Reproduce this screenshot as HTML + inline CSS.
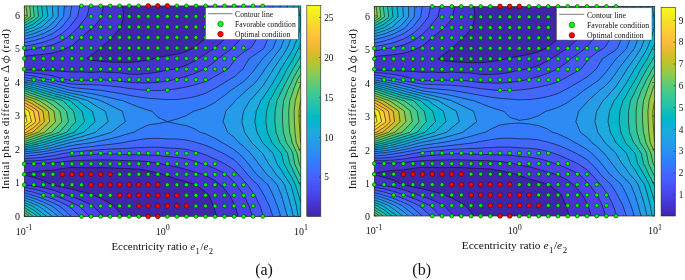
<!DOCTYPE html>
<html><head><meta charset="utf-8"><title>fig</title>
<style>html,body{margin:0;padding:0;background:#fff}svg{display:block;will-change:transform}</style></head>
<body>
<svg width="685" height="280" viewBox="0 0 685 280">
<rect width="685" height="280" fill="#fff"/>
<clipPath id="clipa"><rect x="24.3" y="5.9" width="276.5" height="210.5"/></clipPath>
<g clip-path="url(#clipa)">
<rect x="24.3" y="5.9" width="276.5" height="210.5" fill="#3e26a8"/>
<path d="M24.3,216.4 33.8,216.4 43.4,216.4 52.9,216.4 62.4,216.4 72,216.4 81.5,216.4 91,216.4 100.6,216.4 110.1,216.4 119.6,216.4 122.8,216.4 119.6,212.4 113.8,205.9 110.1,203.4 100.6,198.2 93.9,195.3 91,194.1 81.5,191.6 72,189.2 62.4,187.2 52.9,185 51.8,184.8 43.4,180.6 33.8,177.5 24.3,175 24.3,184.8 24.3,195.3 24.3,205.9 24.3,216.4ZM213.2,205.9 215,211.2 216.5,216.4 224.5,216.4 234.1,216.4 243.6,216.4 253.1,216.4 262.7,216.4 272.2,216.4 281.7,216.4 291.3,216.4 300.8,216.4 300.8,205.9 300.8,195.3 300.8,184.8 300.8,174.3 300.8,163.8 300.8,153.2 300.8,142.7 300.8,132.2 300.8,121.7 300.8,111.2 300.8,100.6 300.8,90.1 300.8,79.6 300.8,69.1 300.8,58.5 300.8,48 300.8,37.5 300.8,26.9 300.8,16.4 300.8,5.9 291.3,5.9 281.7,5.9 272.2,5.9 262.7,5.9 253.1,5.9 243.6,5.9 234.1,5.9 224.5,5.9 216.5,5.9 215.8,16.4 215,19.3 212.3,26.9 207.2,37.5 205.5,38.8 195.9,46.1 193.8,48 186.4,51.5 176.9,54.2 167.3,55.7 157.8,57.5 154.5,58.5 148.2,60 138.7,61.5 129.2,62.5 119.6,62.3 110.1,62.1 100.6,61.2 91,60.3 86.9,58.5 91,55.6 100.6,48 100.6,48 110.1,39.6 112.1,37.5 119.6,28.8 121.1,26.9 123.4,16.4 122.8,5.9 119.6,5.9 110.1,5.9 100.6,5.9 91,5.9 81.5,5.9 72,5.9 62.4,5.9 52.9,5.9 43.4,5.9 33.8,5.9 24.3,5.9 24.3,16.4 24.3,26.9 24.3,37.5 24.3,48 24.3,58.5 24.3,69.1 24.3,79.6 24.3,90.1 24.3,100.6 24.3,111.2 24.3,121.7 24.3,132.2 24.3,142.7 24.3,153.2 24.3,163.8 24.3,173.5 33.8,171.7 43.4,170.5 52.9,170.1 62.4,168.6 72,167.4 81.5,167.7 91,167.8 100.6,167.7 110.1,167.8 119.6,168.3 129.2,168.7 138.7,169.2 148.2,170.7 157.8,173 163.2,174.3 167.3,175.9 176.9,179.2 186.4,181.7 195.9,184.8 196,184.8 205.5,192.2 209,195.4 213.2,205.9Z" fill="#4433cc" fill-rule="evenodd"/>
<path d="M24.3,216.4 33.8,216.4 43.4,216.4 52.9,216.4 62.4,216.4 72,216.4 81.5,216.4 91,216.4 100.6,216.4 103.5,216.4 100.6,213.5 92.7,205.9 91,204.9 81.5,200.3 72,196.8 67.6,195.4 62.4,193.4 52.9,190 43.4,187.6 33.8,185.9 24.3,185 24.3,195.3 24.3,205.9 24.3,216.4ZM238.1,216.4 243.6,216.4 253.1,216.4 262.7,216.4 272.2,216.4 281.7,216.4 291.3,216.4 300.8,216.4 300.8,205.9 300.8,195.3 300.8,184.8 300.8,174.3 300.8,163.8 300.8,153.2 300.8,142.7 300.8,132.2 300.8,121.7 300.8,111.2 300.8,100.6 300.8,90.1 300.8,79.6 300.8,69.1 300.8,58.5 300.8,48 300.8,37.5 300.8,26.9 300.8,16.4 300.8,5.9 291.3,5.9 281.7,5.9 272.2,5.9 262.7,5.9 253.1,5.9 243.6,5.9 238.1,5.9 237.4,16.4 234.1,24.9 233.2,26.9 226.2,37.5 224.5,39.3 215,47.9 214.8,48 205.5,54.1 198.6,58.5 195.9,60.4 186.4,65.2 176.9,68.5 173.7,69.1 167.3,70 157.8,72.1 148.2,73.6 138.7,74.3 129.2,74.2 119.6,72.8 110.1,72.4 100.6,71.9 91,72.5 81.5,71.9 72,72.1 62.4,71.3 52.9,70.7 43.4,70.4 33.8,70 24.3,69.8 24.3,79.6 24.3,90.1 24.3,100.6 24.3,111.2 24.3,121.7 24.3,132.2 24.3,142.7 24.3,153.2 24.3,163.4 33.8,163.5 43.4,163.2 52.9,162.7 62.4,161.8 72,160.8 81.5,160.4 91,160.2 100.6,159.9 110.1,160 119.6,160.4 129.2,160.7 138.7,160.8 148.2,161.6 157.8,163.1 161.4,163.8 167.3,165.1 176.9,167 186.4,169.6 195.9,172.5 202.5,174.3 205.5,175.3 215,180.5 220.5,184.8 224.5,189.1 229.6,195.3 234.1,203.6 235.2,205.9 238.1,216.4ZM24.3,48 24.3,56.2 33.8,55.3 43.4,54.4 52.9,53 62.4,50.1 66.8,48 72,45.7 81.1,37.5 81.5,37.1 91,29.2 93.9,26.9 100.6,18.6 101.4,16.4 103.5,5.9 100.6,5.9 91,5.9 81.5,5.9 72,5.9 62.4,5.9 52.9,5.9 43.4,5.9 33.8,5.9 24.3,5.9 24.3,16.4 24.3,26.9 24.3,37.5 24.3,48Z" fill="#4743e7" fill-rule="evenodd"/>
<path d="M24.3,216.4 33.8,216.4 43.4,216.4 52.9,216.4 62.4,216.4 72,216.4 81.5,216.4 89.5,216.4 81.5,208.3 78.8,205.9 72,202.5 62.4,198.5 53.8,195.3 52.9,195 43.4,191.6 33.8,189.1 24.3,187.6 24.3,195.3 24.3,205.9 24.3,216.4ZM252.5,216.4 253.1,216.4 262.7,216.4 272.2,216.4 281.7,216.4 291.3,216.4 300.8,216.4 300.8,205.9 300.8,195.3 300.8,184.8 300.8,174.3 300.8,163.8 300.8,153.2 300.8,142.7 300.8,132.2 300.8,121.7 300.8,111.2 300.8,100.6 300.8,90.1 300.8,79.6 300.8,69.1 300.8,58.5 300.8,48 300.8,37.5 300.8,26.9 300.8,16.4 300.8,5.9 291.3,5.9 281.7,5.9 272.2,5.9 262.7,5.9 253.1,5.9 252.5,5.9 252.2,16.4 248.8,26.9 243.6,34.7 241.6,37.5 234.1,46.3 232.5,48 224.5,54.1 218.2,58.5 215,61.5 205.5,68.6 204.7,69.1 195.9,73 186.4,76.3 176.9,78.9 174.2,79.6 167.3,81 157.8,82.3 148.2,82.9 138.7,82.9 129.2,82.4 119.6,81.1 110.1,80.2 100.6,79.9 91,80.1 81.5,80.4 72,80.6 64.5,79.6 62.4,78.9 52.9,75.9 43.4,74.3 33.8,73 24.3,72.3 24.3,79.6 24.3,90.1 24.3,100.6 24.3,111.2 24.3,121.7 24.3,132.2 24.3,142.7 24.3,153.2 24.3,161 33.8,160.8 43.4,160.1 52.9,159.2 62.4,157.7 72,156.3 81.5,155.4 91,154.7 100.6,153.9 110.1,153.8 119.6,154.3 129.2,154.7 138.7,154.7 148.2,154.9 157.8,155.4 167.3,156.6 176.9,157.3 186.4,158.8 195.9,161.4 202.8,163.8 205.5,164.7 215,168.7 224.5,173.2 226.1,174.3 234.1,182.1 236.4,184.8 243.6,194.8 244,195.4 249.1,205.9 252.5,216.4ZM24.3,48 24.3,50.7 33.8,48.8 37.5,48 43.4,47 52.9,44.8 62.4,40.6 67,37.5 72,33.5 78.5,26.9 81.5,23 86.9,16.4 89.5,5.9 81.5,5.9 72,5.9 62.4,5.9 52.9,5.9 43.4,5.9 33.8,5.9 24.3,5.9 24.3,16.4 24.3,26.9 24.3,37.5 24.3,48Z" fill="#4855f6" fill-rule="evenodd"/>
<path d="M24.3,216.4 33.8,216.4 43.4,216.4 52.9,216.4 62.4,216.4 72,216.4 79.8,216.4 72,209 68.2,205.9 62.4,203.1 52.9,198.9 43.4,195.5 42.9,195.3 33.8,192.4 24.3,190.2 24.3,195.3 24.3,205.9 24.3,216.4ZM260,205.9 262.7,214 263.4,216.4 272.2,216.4 281.7,216.4 291.3,216.4 300.8,216.4 300.8,205.9 300.8,195.3 300.8,184.8 300.8,174.3 300.8,163.8 300.8,153.2 300.8,142.7 300.8,132.2 300.8,121.7 300.8,111.2 300.8,100.6 300.8,90.1 300.8,79.6 300.8,69.1 300.8,58.5 300.8,48 300.8,37.5 300.8,26.9 300.8,16.4 300.8,5.9 291.3,5.9 281.7,5.9 272.2,5.9 263.4,5.9 263.6,16.4 262.7,21.5 261.4,26.9 257.2,37.5 253.1,44.9 250.6,48 243.6,52.1 235.5,58.5 234.1,61.1 227.9,69.1 224.5,71 215,76.4 209.6,79.6 205.5,81.7 195.9,84.6 186.4,87 176.9,88.7 167.3,90 165.1,90.1 157.8,90.5 148.2,90.5 144.3,90.1 138.7,89.6 129.2,88.5 119.6,87.1 110.1,86 100.6,85.1 91,84.7 81.5,84.5 72,84.1 62.4,82.3 52.9,80.4 48.5,79.6 43.4,78.2 33.8,76.1 24.3,74.8 24.3,79.6 24.3,90.1 24.3,100.6 24.3,111.2 24.3,121.7 24.3,132.2 24.3,142.7 24.3,153.2 24.3,158.6 33.8,158.1 43.4,157.1 52.9,155.7 62.4,153.7 65.1,153.2 72,152.2 81.5,151.2 91,150.4 100.6,149.6 110.1,149 119.6,148.7 129.2,148.2 138.7,147.6 148.2,147.2 157.8,147.2 167.3,147.9 176.9,148.3 186.4,149.4 195.9,151.7 200.6,153.2 205.5,154.9 215,159.1 224.5,163.6 224.9,163.8 234.1,169.8 238.2,174.3 243.6,180.6 247.5,184.8 253.1,192.8 254.8,195.3 260,205.9ZM24.3,37.5 24.3,46.2 33.8,44.6 43.4,42.3 52.9,38.7 55.3,37.5 62.4,33.2 69.6,26.9 72,23.7 77.7,16.4 79.8,5.9 72,5.9 62.4,5.9 52.9,5.9 43.4,5.9 33.8,5.9 24.3,5.9 24.3,16.4 24.3,26.9 24.3,37.5Z" fill="#4367fd" fill-rule="evenodd"/>
<path d="M24.3,216.4 33.8,216.4 43.4,216.4 52.9,216.4 62.4,216.4 71.6,216.4 62.4,208.4 59.3,205.9 52.9,202.8 43.4,198.8 33.8,195.6 33.1,195.3 24.3,192.8 24.3,195.3 24.3,205.9 24.3,216.4ZM269.3,205.9 272.2,214.3 272.8,216.4 281.7,216.4 291.3,216.4 300.8,216.4 300.8,205.9 300.8,195.3 300.8,184.8 300.8,174.3 300.8,163.8 300.8,153.2 300.8,142.7 300.8,132.2 300.8,121.7 300.8,111.2 300.8,100.6 300.8,90.1 300.8,79.6 300.8,69.1 300.8,58.5 300.8,48 300.8,37.5 300.8,26.9 300.8,16.4 300.8,5.9 291.3,5.9 281.7,5.9 272.8,5.9 272.9,16.4 272.2,21.8 271.4,26.9 268.4,37.5 264,48 262.7,49.4 253.1,55.9 249.2,58.5 243.6,67.9 243,69.1 234.1,76.8 229.4,79.6 224.5,82.6 215,88.3 211.5,90.1 205.5,93.4 195.9,96.4 186.4,98.3 176.9,99.5 167.3,99.7 157.8,98.9 148.2,98.3 138.7,97 129.2,95.3 119.6,93.4 110.1,91.8 100.6,90.3 98.8,90.1 91,89.3 81.5,88.5 72,87.5 62.4,85.2 52.9,83 43.4,81.1 35.2,79.6 33.8,79.2 24.3,77.3 24.3,79.6 24.3,90.1 24.3,100.6 24.3,111.2 24.3,121.7 24.3,132.2 24.3,142.7 24.3,153.2 24.3,156.2 33.8,155.4 43.4,154 47.7,153.2 52.9,152.4 62.4,150.6 72,148.9 81.5,147.6 91,146.6 100.6,145.4 110.1,144.4 119.6,143.2 122.8,142.7 129.2,141.4 138.7,139.7 148.2,138.5 157.8,138.3 167.3,138.9 176.9,139 186.4,140 195.9,142.3 197.1,142.7 205.5,145.3 215,149.4 222.9,153.2 224.5,154 234.1,159.7 238.2,163.8 243.6,169.6 247.3,174.3 253.1,180.6 257.8,184.8 262.7,192.8 264.1,195.3 269.3,205.9ZM24.3,37.5 24.3,42.7 33.8,40.6 43.4,37.6 43.7,37.5 52.9,33.5 62,26.9 62.4,26.4 70.1,16.4 71.6,5.9 62.4,5.9 52.9,5.9 43.4,5.9 33.8,5.9 24.3,5.9 24.3,16.4 24.3,26.9 24.3,37.5Z" fill="#347afd" fill-rule="evenodd"/>
<path d="M24.3,216.4 33.8,216.4 43.4,216.4 52.9,216.4 62.4,216.4 64.4,216.4 62.4,214.7 52.9,206.8 51.5,205.9 43.4,202.1 33.8,198.3 24.3,195.4 24.3,205.9 24.3,216.4ZM280.7,216.4 281.7,216.4 291.3,216.4 300.8,216.4 300.8,205.9 300.8,195.3 300.8,184.8 300.8,174.3 300.8,163.8 300.8,153.2 300.8,142.7 300.8,132.2 300.8,121.7 300.8,111.2 300.8,100.6 300.8,90.1 300.8,79.6 300.8,69.1 300.8,58.5 300.8,48 300.8,37.5 300.8,26.9 300.8,16.4 300.8,5.9 291.3,5.9 281.7,5.9 280.7,5.9 280.8,16.4 279.6,26.9 277.1,37.5 273.1,48 272.2,49.2 262.9,58.5 262.7,58.8 254.9,69.1 253.1,71.5 245.9,79.6 243.6,81.5 234.1,88.2 231.1,90.1 224.5,95.5 217.3,100.6 215,102.5 205.5,107.5 195.9,110.6 193.5,111.2 186.4,115.7 176.9,119 167.3,121.7 157.8,117.3 152,111.2 148.2,110.2 138.7,107.1 129.2,103.3 122.5,100.6 119.6,100 110.1,97.7 100.6,95.5 91,93.6 81.5,92.1 72,90.7 69.3,90.1 62.4,88.2 52.9,85.6 43.4,83.4 33.8,81.4 24.3,79.8 24.3,90.1 24.3,100.6 24.3,111.2 24.3,121.7 24.3,132.2 24.3,142.7 24.3,153.2 24.3,153.8 29.2,153.2 33.8,152.8 43.4,151.6 52.9,149.8 62.4,147.6 72,145.5 81.5,144 91,142.7 91,142.7 100.6,140.9 110.1,138.8 119.6,136.3 129.2,133.4 134.1,132.2 138.7,129.4 148.2,124.9 157.8,123.6 167.3,121.7 176.9,123.9 186.4,125.6 195.9,129.4 199.8,132.2 205.5,133.8 215,138.3 222.2,142.7 224.5,143.8 234.1,149.6 238.5,153.2 243.6,158.1 248.3,163.8 253.1,170.1 256.5,174.3 262.7,179.9 268,184.8 272.2,193.1 273.1,195.3 277.4,205.9 280.7,216.4ZM24.3,37.5 24.3,39.3 31.1,37.5 33.8,36.8 43.4,33.7 52.9,28.5 55.1,26.9 62.4,17.9 63.6,16.4 64.4,5.9 62.4,5.9 52.9,5.9 43.4,5.9 33.8,5.9 24.3,5.9 24.3,16.4 24.3,26.9 24.3,37.5Z" fill="#2d8cf3" fill-rule="evenodd"/>
<path d="M24.3,216.4 33.8,216.4 43.4,216.4 52.9,216.4 58.2,216.4 52.9,211.9 44.5,205.9 43.4,205.3 33.8,201.1 24.3,197.8 24.3,205.9 24.3,216.4ZM287.4,216.4 291.3,216.4 300.8,216.4 300.8,205.9 300.8,195.3 300.8,184.8 300.8,174.3 300.8,163.8 300.8,153.2 300.8,142.7 300.8,132.2 300.8,121.7 300.8,111.2 300.8,100.6 300.8,90.1 300.8,79.6 300.8,69.1 300.8,58.5 300.8,48 300.8,37.5 300.8,26.9 300.8,16.4 300.8,5.9 291.3,5.9 287.4,5.9 287.7,16.4 286.9,26.9 284.6,37.5 281.7,45.7 280.8,48 272.8,58.5 272.2,59.4 264.9,69.1 262.7,72.7 257.7,79.6 253.1,84.9 246.6,90.1 243.6,93 235.2,100.6 234.1,102.2 225.8,111.2 224.5,116.6 222.9,121.7 224.5,124.6 227.6,132.2 234.1,137.3 239,142.7 243.6,146.4 250.6,153.2 253.1,156.3 258.6,163.8 262.7,169 266.7,174.3 272.2,179.3 277.1,184.8 281.4,195.3 281.7,196.3 284.5,205.9 287.4,216.4ZM24.3,142.7 24.3,151.9 33.8,150.8 43.4,149.3 52.9,147.3 62.4,144.7 70.1,142.7 72,142.2 81.5,140.4 91,138.3 100.6,135.6 110.1,132.7 111.7,132.2 119.6,126 125.3,121.7 122.2,111.2 119.6,109.9 110.1,105.2 100.6,100.7 100.4,100.6 91,97.8 81.5,95.4 72,93.4 62.4,91 59.2,90.1 52.9,88.2 43.4,85.7 33.8,83.5 24.3,81.6 24.3,90.1 24.3,100.6 24.3,111.2 24.3,121.7 24.3,132.2 24.3,142.7ZM24.3,26.9 24.3,36.2 33.8,33.6 43.4,29.7 48.2,26.9 52.9,22.7 58.2,16.4 58.2,5.9 52.9,5.9 43.4,5.9 33.8,5.9 24.3,5.9 24.3,16.4 24.3,26.9Z" fill="#259ce7" fill-rule="evenodd"/>
<path d="M24.3,216.4 33.8,216.4 43.4,216.4 52.3,216.4 43.4,209.5 38.2,205.9 33.8,203.9 24.3,200.2 24.3,205.9 24.3,216.4ZM290.9,205.9 291.3,207.2 293.2,216.4 300.8,216.4 300.8,205.9 300.8,195.3 300.8,184.8 300.8,174.3 300.8,163.8 300.8,153.2 300.8,142.7 300.8,132.2 300.8,121.7 300.8,111.2 300.8,100.6 300.8,90.1 300.8,79.6 300.8,69.1 300.8,58.5 300.8,48 300.8,37.5 300.8,26.9 300.8,16.4 300.8,5.9 293.2,5.9 294.1,16.4 293.7,26.9 291.4,37.5 291.3,37.8 287.4,48 281.7,57.1 280.6,58.5 273.4,69.1 272.2,71.3 266.9,79.6 262.7,86.1 259.2,90.1 253.1,97.3 249.8,100.6 243.6,111.1 243.6,111.2 241.8,121.7 243.6,127.9 244.6,132.2 251.7,142.7 253.1,144.1 262.3,153.2 262.7,153.7 268.6,163.8 272.2,168.5 276,174.3 281.7,180.7 284.5,184.8 287.9,195.3 290.9,205.9ZM24.3,142.7 24.3,150.2 33.8,148.9 43.4,147 52.9,144.7 59.4,142.7 62.4,141.8 72,139.2 81.5,136.7 91,133.8 95.7,132.2 100.6,127.8 108.2,121.7 105.3,111.2 100.6,108.6 91,102.9 87.7,100.6 81.5,98.7 72,96 62.4,93.3 52.9,90.8 50.6,90.1 43.4,88 33.8,85.5 24.3,83.4 24.3,90.1 24.3,100.6 24.3,111.2 24.3,121.7 24.3,132.2 24.3,142.7ZM24.3,26.9 24.3,33.5 33.8,30.4 41.4,26.9 43.4,25.5 52.9,16.6 53,16.4 52.9,14.6 52.3,5.9 43.4,5.9 33.8,5.9 24.3,5.9 24.3,16.4 24.3,26.9Z" fill="#1caadf" fill-rule="evenodd"/>
<path d="M24.3,216.4 33.8,216.4 43.4,216.4 46.7,216.4 43.4,213.8 33.8,206.9 32.1,205.9 24.3,202.6 24.3,205.9 24.3,216.4ZM298.1,216.4 300.8,216.4 300.8,205.9 300.8,195.3 300.8,184.8 300.8,174.3 300.8,163.8 300.8,153.2 300.8,142.7 300.8,132.2 300.8,121.7 300.8,111.2 300.8,100.6 300.8,90.1 300.8,79.6 300.8,69.1 300.8,58.5 300.8,48 300.8,37.5 300.8,26.9 300.8,16.4 300.8,5.9 298.1,5.9 300.1,16.4 300.2,26.9 297.6,37.5 293.4,48 291.3,52.1 287.3,58.5 281.7,67.5 280.7,69.1 274.7,79.6 272.2,83.9 268.1,90.1 262.7,98.4 260.8,100.6 256.3,111.2 254.8,121.7 257,132.2 262.6,142.7 262.7,142.8 272.2,152.6 272.8,153.2 277,163.8 281.7,170.7 283.7,174.3 290.7,184.8 291.3,186.6 293.7,195.4 296.4,205.9 298.1,216.4ZM24.3,142.7 24.3,148.5 33.8,146.9 43.4,144.8 50.8,142.7 52.9,142.1 62.4,139.1 72,136.1 81.5,133 84,132.2 91,125.4 95.1,121.7 92.4,111.2 91,110.3 81.5,103.6 78.1,100.6 72,98.7 62.4,95.7 52.9,93.2 43.4,90.4 42.6,90.1 33.8,87.6 24.3,85.2 24.3,90.1 24.3,100.6 24.3,111.2 24.3,121.7 24.3,132.2 24.3,142.7ZM24.3,26.9 24.3,30.8 33.8,27.3 34.5,26.9 43.4,20.6 47.8,16.4 46.7,5.9 43.4,5.9 33.8,5.9 24.3,5.9 24.3,16.4 24.3,26.9Z" fill="#04b6ce" fill-rule="evenodd"/>
<path d="M24.3,216.4 33.8,216.4 41.6,216.4 33.8,210.3 26.3,205.9 24.3,205 24.3,205.9 24.3,216.4ZM298.7,195.3 300.8,202.6 300.8,195.3 300.8,184.8 300.8,174.3 300.8,163.8 300.8,153.2 300.8,142.7 300.8,132.2 300.8,121.7 300.8,111.2 300.8,100.6 300.8,90.1 300.8,79.6 300.8,69.1 300.8,58.5 300.8,48 300.8,43.3 298.7,48 293.5,58.5 291.3,62.2 287,69.1 281.7,79.5 281.7,79.6 275.4,90.1 272.2,96.4 269.5,100.6 266.5,111.2 265.8,121.7 267.4,132.2 272,142.7 272.2,142.9 281.2,153.2 281.7,154.7 284,163.8 289.8,174.3 291.3,176.5 295.4,184.8 298.7,195.3ZM24.3,142.7 24.3,146.8 33.8,144.9 42.5,142.7 43.4,142.5 52.9,139.5 62.4,136.5 72,133 74.5,132.2 81.5,124.7 84.6,121.7 82,111.2 81.5,110.8 72,102.5 70.1,100.6 62.4,98.1 52.9,95.6 43.4,92.7 35.5,90.1 33.8,89.6 24.3,87 24.3,90.1 24.3,100.6 24.3,111.2 24.3,121.7 24.3,132.2 24.3,142.7ZM24.3,26.9 24.3,28.1 27.3,26.9 33.8,23.8 42.8,16.4 41.6,5.9 33.8,5.9 24.3,5.9 24.3,16.4 24.3,26.9Z" fill="#12beb9" fill-rule="evenodd"/>
<path d="M24.3,216.4 33.8,216.4 37.3,216.4 33.8,213.7 24.3,207.5 24.3,216.4ZM300.1,184.8 300.8,187.1 300.8,184.8 300.8,174.3 300.8,163.8 300.8,153.2 300.8,142.7 300.8,132.2 300.8,121.7 300.8,111.2 300.8,100.6 300.8,90.1 300.8,79.6 300.8,69.1 300.8,58.5 300.8,55.4 299.3,58.5 292.9,69.1 291.3,72.1 287.3,79.6 282,90.1 281.7,90.8 277,100.6 275.1,111.2 274.9,121.7 276,132.2 280,142.7 281.7,144.7 287.4,153.2 289.9,163.8 291.3,166.3 294.8,174.3 300.1,184.8ZM24.3,142.7 24.3,145 33.8,142.9 34.6,142.7 43.4,140 52.9,136.9 62.4,133.8 66.8,132.2 72,125.7 75.8,121.7 73.5,111.2 72,109.8 62.9,100.6 62.4,100.5 52.9,98 43.4,95.1 33.8,91.9 28.9,90.1 24.3,88.8 24.3,90.1 24.3,100.6 24.3,111.2 24.3,121.7 24.3,132.2 24.3,142.7ZM24.3,16.4 24.3,25.6 33.8,20.4 38.6,16.4 37.3,5.9 33.8,5.9 24.3,5.9 24.3,16.4Z" fill="#30c5a2" fill-rule="evenodd"/>
<path d="M24.3,216.4 33.1,216.4 24.3,210 24.3,216.4ZM299.5,174.3 300.8,176.9 300.8,174.3 300.8,163.8 300.8,153.2 300.8,142.7 300.8,132.2 300.8,121.7 300.8,111.2 300.8,100.6 300.8,90.1 300.8,79.6 300.8,69.1 300.8,65.2 298.4,69.1 292.6,79.6 291.3,82.9 287.7,90.1 283.7,100.6 282.5,111.2 282.5,121.7 283.3,132.2 286.4,142.7 291.3,149.9 292.8,153.2 294.7,163.8 299.5,174.3ZM24.3,142.7 24.3,143.3 26.9,142.7 33.8,140.7 43.4,137.5 52.9,134.4 59.4,132.2 62.4,129 68.4,121.7 66.5,111.2 62.4,107.1 53.8,100.6 52.9,100.4 43.4,97.5 33.8,94.2 24.3,90.7 24.3,100.6 24.3,111.2 24.3,121.7 24.3,132.2 24.3,142.7ZM24.3,16.4 24.3,23.2 33.8,16.9 34.4,16.4 33.8,12.3 33.1,5.9 24.3,5.9 24.3,16.4Z" fill="#48cb86" fill-rule="evenodd"/>
<path d="M24.3,216.4 29.6,216.4 24.3,212.5 24.3,216.4ZM299.3,163.8 300.8,167.1 300.8,163.8 300.8,153.2 300.8,142.7 300.8,132.2 300.8,121.7 300.8,111.2 300.8,100.6 300.8,90.1 300.8,79.6 300.8,73.8 297.4,79.6 293.3,90.1 291.3,96.5 289.8,100.6 288.7,111.2 288.9,121.7 289.6,132.2 291.3,138.3 292.1,142.7 297,153.2 299.3,163.8ZM24.3,132.2 24.3,141.4 33.8,138.4 43.4,135.1 51.8,132.2 52.9,131.1 61.8,121.7 60,111.2 52.9,105.2 45.9,100.6 43.4,99.9 33.8,96.5 24.3,93 24.3,100.6 24.3,111.2 24.3,121.7 24.3,132.2ZM24.3,16.4 24.3,20.8 30.8,16.4 29.6,5.9 24.3,5.9 24.3,16.4Z" fill="#71cd64" fill-rule="evenodd"/>
<path d="M24.3,216.4 26.2,216.4 24.3,215.1 24.3,216.4ZM296.3,142.7 300.8,152.5 300.8,142.7 300.8,132.2 300.8,121.7 300.8,111.2 300.8,100.6 300.8,90.1 300.8,83.9 298.5,90.1 295.3,100.6 294.1,111.2 294.4,121.7 295,132.2 296.3,142.7ZM24.3,132.2 24.3,139.3 33.8,136.2 43.4,132.6 44.6,132.2 52.9,124.4 55.5,121.7 53.9,111.2 52.9,110.3 43.4,103.4 38.9,100.6 33.8,98.8 24.3,95.3 24.3,100.6 24.3,111.2 24.3,121.7 24.3,132.2ZM24.3,16.4 24.3,18.5 27.3,16.4 26.2,5.9 24.3,5.9 24.3,16.4Z" fill="#9fc942" fill-rule="evenodd"/>
<path d="M300.6,142.7 300.8,143.2 300.8,142.7 300.8,132.2 300.8,121.7 300.8,111.2 300.8,100.6 300.8,99.9 300.6,100.6 299,111.2 299.2,121.7 299.9,132.2 300.6,142.7ZM24.3,132.2 24.3,137.2 33.8,133.9 38.4,132.2 43.4,127.8 49.7,121.7 48.4,111.2 43.4,107.4 33.8,101.4 32.5,100.6 24.3,97.6 24.3,100.6 24.3,111.2 24.3,121.7 24.3,132.2Z" fill="#c8c129" fill-rule="evenodd"/>
<path d="M24.3,132.2 24.3,135.1 32.4,132.2 33.8,131.3 43.4,122.6 44.3,121.7 43.4,114.5 43,111.2 33.8,104.7 26.4,100.6 24.3,99.8 24.3,100.6 24.3,111.2 24.3,121.7 24.3,132.2Z" fill="#eaba30" fill-rule="evenodd"/>
<path d="M24.3,132.2 24.3,133.1 26.7,132.2 33.8,127.4 40,121.7 38.2,111.2 33.8,108 24.3,102.5 24.3,111.2 24.3,121.7 24.3,132.2Z" fill="#fec13a" fill-rule="evenodd"/>
<path d="M24.3,121.7 24.3,130.3 33.8,123.5 35.8,121.7 33.8,112.5 33.5,111.1 24.3,105.3 24.3,111.2 24.3,121.7Z" fill="#fad42e" fill-rule="evenodd"/>
<path d="M24.3,121.7 24.3,127 31.5,121.7 29,111.2 24.3,108.2 24.3,111.2 24.3,121.7Z" fill="#f5e825" fill-rule="evenodd"/>
<path d="M24.3,121.7 24.3,123.7 27,121.7 24.5,111.2 24.3,111 24.3,111.2 24.3,121.7Z" fill="#f9fb15" fill-rule="evenodd"/>
<path d="M122.8,216.4 119.6,212.4 113.8,205.9 110.1,203.4 100.6,198.2 93.9,195.3 91,194.1 81.5,191.6 72,189.2 62.4,187.2 52.9,185 51.8,184.8 43.4,180.6 33.8,177.5 24.3,175M24.3,173.5 33.8,171.7 43.4,170.5 52.9,170.1 62.4,168.6 72,167.4 81.5,167.7 91,167.8 100.6,167.7 110.1,167.8 119.6,168.3 129.2,168.7 138.7,169.2 148.2,170.7 157.8,173 163.2,174.3 167.3,175.9 176.9,179.2 186.4,181.7 195.9,184.8 196,184.8 205.5,192.2 209,195.4 213.2,205.9 215,211.2 216.5,216.4M216.5,5.9 215.8,16.4 215,19.3 212.3,26.9 207.2,37.5 205.5,38.8 195.9,46.1 193.8,48 186.4,51.5 176.9,54.2 167.3,55.7 157.8,57.5 154.5,58.5 148.2,60 138.7,61.5 129.2,62.5 119.6,62.3 110.1,62.1 100.6,61.2 91,60.3 86.9,58.5 91,55.6 100.6,48 100.6,48 110.1,39.6 112.1,37.5 119.6,28.8 121.1,26.9 123.4,16.4 122.8,5.9M103.5,216.4 100.6,213.5 92.7,205.9 91,204.9 81.5,200.3 72,196.8 67.6,195.4 62.4,193.4 52.9,190 43.4,187.6 33.8,185.9 24.3,185M24.3,163.4 33.8,163.5 43.4,163.2 52.9,162.7 62.4,161.8 72,160.8 81.5,160.4 91,160.2 100.6,159.9 110.1,160 119.6,160.4 129.2,160.7 138.7,160.8 148.2,161.6 157.8,163.1 161.4,163.8 167.3,165.1 176.9,167 186.4,169.6 195.9,172.5 202.5,174.3 205.5,175.3 215,180.5 220.5,184.8 224.5,189.1 229.6,195.3 234.1,203.6 235.2,205.9 238.1,216.4M24.3,56.2 33.8,55.3 43.4,54.4 52.9,53 62.4,50.1 66.8,48 72,45.7 81.1,37.5 81.5,37.1 91,29.2 93.9,26.9 100.6,18.6 101.4,16.4 103.5,5.9M238.1,5.9 237.4,16.4 234.1,24.9 233.2,26.9 226.2,37.5 224.5,39.3 215,47.9 214.8,48 205.5,54.1 198.6,58.5 195.9,60.4 186.4,65.2 176.9,68.5 173.7,69.1 167.3,70 157.8,72.1 148.2,73.6 138.7,74.3 129.2,74.2 119.6,72.8 110.1,72.4 100.6,71.9 91,72.5 81.5,71.9 72,72.1 62.4,71.3 52.9,70.7 43.4,70.4 33.8,70 24.3,69.8M89.5,216.4 81.5,208.3 78.8,205.9 72,202.5 62.4,198.5 53.8,195.3 52.9,195 43.4,191.6 33.8,189.1 24.3,187.6M24.3,161 33.8,160.8 43.4,160.1 52.9,159.2 62.4,157.7 72,156.3 81.5,155.4 91,154.7 100.6,153.9 110.1,153.8 119.6,154.3 129.2,154.7 138.7,154.7 148.2,154.9 157.8,155.4 167.3,156.6 176.9,157.3 186.4,158.8 195.9,161.4 202.8,163.8 205.5,164.7 215,168.7 224.5,173.2 226.1,174.3 234.1,182.1 236.4,184.8 243.6,194.8 244,195.4 249.1,205.9 252.5,216.4M24.3,50.7 33.8,48.8 37.5,48 43.4,47 52.9,44.8 62.4,40.6 67,37.5 72,33.5 78.5,26.9 81.5,23 86.9,16.4 89.5,5.9M252.5,5.9 252.2,16.4 248.8,26.9 243.6,34.7 241.6,37.5 234.1,46.3 232.5,48 224.5,54.1 218.2,58.5 215,61.5 205.5,68.6 204.7,69.1 195.9,73 186.4,76.3 176.9,78.9 174.2,79.6 167.3,81 157.8,82.3 148.2,82.9 138.7,82.9 129.2,82.4 119.6,81.1 110.1,80.2 100.6,79.9 91,80.1 81.5,80.4 72,80.6 64.5,79.6 62.4,78.9 52.9,75.9 43.4,74.3 33.8,73 24.3,72.3M79.8,216.4 72,209 68.2,205.9 62.4,203.1 52.9,198.9 43.4,195.5 42.9,195.3 33.8,192.4 24.3,190.2M24.3,158.6 33.8,158.1 43.4,157.1 52.9,155.7 62.4,153.7 65.1,153.2 72,152.2 81.5,151.2 91,150.4 100.6,149.6 110.1,149 119.6,148.7 129.2,148.2 138.7,147.6 148.2,147.2 157.8,147.2 167.3,147.9 176.9,148.3 186.4,149.4 195.9,151.7 200.6,153.2 205.5,154.9 215,159.1 224.5,163.6 224.9,163.8 234.1,169.8 238.2,174.3 243.6,180.6 247.5,184.8 253.1,192.8 254.8,195.3 260,205.9 262.7,214 263.4,216.4M24.3,46.2 33.8,44.6 43.4,42.3 52.9,38.7 55.3,37.5 62.4,33.2 69.6,26.9 72,23.7 77.7,16.4 79.8,5.9M263.4,5.9 263.6,16.4 262.7,21.5 261.4,26.9 257.2,37.5 253.1,44.9 250.6,48 243.6,52.1 235.5,58.5 234.1,61.1 227.9,69.1 224.5,71 215,76.4 209.6,79.6 205.5,81.7 195.9,84.6 186.4,87 176.9,88.7 167.3,90 165.1,90.1 157.8,90.5 148.2,90.5 144.3,90.1 138.7,89.6 129.2,88.5 119.6,87.1 110.1,86 100.6,85.1 91,84.7 81.5,84.5 72,84.1 62.4,82.3 52.9,80.4 48.5,79.6 43.4,78.2 33.8,76.1 24.3,74.8M71.6,216.4 62.4,208.4 59.3,205.9 52.9,202.8 43.4,198.8 33.8,195.6 33.1,195.3 24.3,192.8M24.3,156.2 33.8,155.4 43.4,154 47.7,153.2 52.9,152.4 62.4,150.6 72,148.9 81.5,147.6 91,146.6 100.6,145.4 110.1,144.4 119.6,143.2 122.8,142.7 129.2,141.4 138.7,139.7 148.2,138.5 157.8,138.3 167.3,138.9 176.9,139 186.4,140 195.9,142.3 197.1,142.7 205.5,145.3 215,149.4 222.9,153.2 224.5,154 234.1,159.7 238.2,163.8 243.6,169.6 247.3,174.3 253.1,180.6 257.8,184.8 262.7,192.8 264.1,195.3 269.3,205.9 272.2,214.3 272.8,216.4M24.3,42.7 33.8,40.6 43.4,37.6 43.7,37.5 52.9,33.5 62,26.9 62.4,26.4 70.1,16.4 71.6,5.9M272.8,5.9 272.9,16.4 272.2,21.8 271.4,26.9 268.4,37.5 264,48 262.7,49.4 253.1,55.9 249.2,58.5 243.6,67.9 243,69.1 234.1,76.8 229.4,79.6 224.5,82.6 215,88.3 211.5,90.1 205.5,93.4 195.9,96.4 186.4,98.3 176.9,99.5 167.3,99.7 157.8,98.9 148.2,98.3 138.7,97 129.2,95.3 119.6,93.4 110.1,91.8 100.6,90.3 98.8,90.1 91,89.3 81.5,88.5 72,87.5 62.4,85.2 52.9,83 43.4,81.1 35.2,79.6 33.8,79.2 24.3,77.3M64.4,216.4 62.4,214.7 52.9,206.8 51.5,205.9 43.4,202.1 33.8,198.3 24.3,195.4M24.3,153.8 29.2,153.2 33.8,152.8 43.4,151.6 52.9,149.8 62.4,147.6 72,145.5 81.5,144 91,142.7 91,142.7 100.6,140.9 110.1,138.8 119.6,136.3 129.2,133.4 134.1,132.2 138.7,129.4 148.2,124.9 157.8,123.6 167.3,121.7 176.9,123.9 186.4,125.6 195.9,129.4 199.8,132.2 205.5,133.8 215,138.3 222.2,142.7 224.5,143.8 234.1,149.6 238.5,153.2 243.6,158.1 248.3,163.8 253.1,170.1 256.5,174.3 262.7,179.9 268,184.8 272.2,193.1 273.1,195.3 277.4,205.9 280.7,216.4M24.3,39.3 31.1,37.5 33.8,36.8 43.4,33.7 52.9,28.5 55.1,26.9 62.4,17.9 63.6,16.4 64.4,5.9M280.7,5.9 280.8,16.4 279.6,26.9 277.1,37.5 273.1,48 272.2,49.2 262.9,58.5 262.7,58.8 254.9,69.1 253.1,71.5 245.9,79.6 243.6,81.5 234.1,88.2 231.1,90.1 224.5,95.5 217.3,100.6 215,102.5 205.5,107.5 195.9,110.6 193.5,111.2 186.4,115.7 176.9,119 167.3,121.7 157.8,117.3 152,111.2 148.2,110.2 138.7,107.1 129.2,103.3 122.5,100.6 119.6,100 110.1,97.7 100.6,95.5 91,93.6 81.5,92.1 72,90.7 69.3,90.1 62.4,88.2 52.9,85.6 43.4,83.4 33.8,81.4 24.3,79.8M58.2,216.4 52.9,211.9 44.5,205.9 43.4,205.3 33.8,201.1 24.3,197.8M24.3,151.9 33.8,150.8 43.4,149.3 52.9,147.3 62.4,144.7 70.1,142.7 72,142.2 81.5,140.4 91,138.3 100.6,135.6 110.1,132.7 111.7,132.2 119.6,126 125.3,121.7 122.2,111.2 119.6,109.9 110.1,105.2 100.6,100.7 100.4,100.6 91,97.8 81.5,95.4 72,93.4 62.4,91 59.2,90.1 52.9,88.2 43.4,85.7 33.8,83.5 24.3,81.6M24.3,36.2 33.8,33.6 43.4,29.7 48.2,26.9 52.9,22.7 58.2,16.4 58.2,5.9M287.4,5.9 287.7,16.4 286.9,26.9 284.6,37.5 281.7,45.7 280.8,48 272.8,58.5 272.2,59.4 264.9,69.1 262.7,72.7 257.7,79.6 253.1,84.9 246.6,90.1 243.6,93 235.2,100.6 234.1,102.2 225.8,111.2 224.5,116.6 222.9,121.7 224.5,124.6 227.6,132.2 234.1,137.3 239,142.7 243.6,146.4 250.6,153.2 253.1,156.3 258.6,163.8 262.7,169 266.7,174.3 272.2,179.3 277.1,184.8 281.4,195.3 281.7,196.3 284.5,205.9 287.4,216.4M52.3,216.4 43.4,209.5 38.2,205.9 33.8,203.9 24.3,200.2M24.3,150.2 33.8,148.9 43.4,147 52.9,144.7 59.4,142.7 62.4,141.8 72,139.2 81.5,136.7 91,133.8 95.7,132.2 100.6,127.8 108.2,121.7 105.3,111.2 100.6,108.6 91,102.9 87.7,100.6 81.5,98.7 72,96 62.4,93.3 52.9,90.8 50.6,90.1 43.4,88 33.8,85.5 24.3,83.4M24.3,33.5 33.8,30.4 41.4,26.9 43.4,25.5 52.9,16.6 53,16.4 52.9,14.6 52.3,5.9M293.2,5.9 294.1,16.4 293.7,26.9 291.4,37.5 291.3,37.8 287.4,48 281.7,57.1 280.6,58.5 273.4,69.1 272.2,71.3 266.9,79.6 262.7,86.1 259.2,90.1 253.1,97.3 249.8,100.6 243.6,111.1 243.6,111.2 241.8,121.7 243.6,127.9 244.6,132.2 251.7,142.7 253.1,144.1 262.3,153.2 262.7,153.7 268.6,163.8 272.2,168.5 276,174.3 281.7,180.7 284.5,184.8 287.9,195.3 290.9,205.9 291.3,207.2 293.2,216.4M46.7,216.4 43.4,213.8 33.8,206.9 32.1,205.9 24.3,202.6M24.3,148.5 33.8,146.9 43.4,144.8 50.8,142.7 52.9,142.1 62.4,139.1 72,136.1 81.5,133 84,132.2 91,125.4 95.1,121.7 92.4,111.2 91,110.3 81.5,103.6 78.1,100.6 72,98.7 62.4,95.7 52.9,93.2 43.4,90.4 42.6,90.1 33.8,87.6 24.3,85.2M24.3,30.8 33.8,27.3 34.5,26.9 43.4,20.6 47.8,16.4 46.7,5.9M298.1,5.9 300.1,16.4 300.2,26.9 297.6,37.5 293.4,48 291.3,52.1 287.3,58.5 281.7,67.5 280.7,69.1 274.7,79.6 272.2,83.9 268.1,90.1 262.7,98.4 260.8,100.6 256.3,111.2 254.8,121.7 257,132.2 262.6,142.7 262.7,142.8 272.2,152.6 272.8,153.2 277,163.8 281.7,170.7 283.7,174.3 290.7,184.8 291.3,186.6 293.7,195.4 296.4,205.9 298.1,216.4M41.6,216.4 33.8,210.3 26.3,205.9 24.3,205M24.3,146.8 33.8,144.9 42.5,142.7 43.4,142.5 52.9,139.5 62.4,136.5 72,133 74.5,132.2 81.5,124.7 84.6,121.7 82,111.2 81.5,110.8 72,102.5 70.1,100.6 62.4,98.1 52.9,95.6 43.4,92.7 35.5,90.1 33.8,89.6 24.3,87M300.8,43.3 298.7,48 293.5,58.5 291.3,62.2 287,69.1 281.7,79.5 281.7,79.6 275.4,90.1 272.2,96.4 269.5,100.6 266.5,111.2 265.8,121.7 267.4,132.2 272,142.7 272.2,142.9 281.2,153.2 281.7,154.7 284,163.8 289.8,174.3 291.3,176.5 295.4,184.8 298.7,195.3 300.8,202.6M24.3,28.1 27.3,26.9 33.8,23.8 42.8,16.4 41.6,5.9M37.3,216.4 33.8,213.7 24.3,207.5M24.3,145 33.8,142.9 34.6,142.7 43.4,140 52.9,136.9 62.4,133.8 66.8,132.2 72,125.7 75.8,121.7 73.5,111.2 72,109.8 62.9,100.6 62.4,100.5 52.9,98 43.4,95.1 33.8,91.9 28.9,90.1 24.3,88.8M300.8,55.4 299.3,58.5 292.9,69.1 291.3,72.1 287.3,79.6 282,90.1 281.7,90.8 277,100.6 275.1,111.2 274.9,121.7 276,132.2 280,142.7 281.7,144.7 287.4,153.2 289.9,163.8 291.3,166.3 294.8,174.3 300.1,184.8 300.8,187.1M24.3,25.6 33.8,20.4 38.6,16.4 37.3,5.9M33.1,216.4 24.3,210M24.3,143.3 26.9,142.7 33.8,140.7 43.4,137.5 52.9,134.4 59.4,132.2 62.4,129 68.4,121.7 66.5,111.2 62.4,107.1 53.8,100.6 52.9,100.4 43.4,97.5 33.8,94.2 24.3,90.7M300.8,65.2 298.4,69.1 292.6,79.6 291.3,82.9 287.7,90.1 283.7,100.6 282.5,111.2 282.5,121.7 283.3,132.2 286.4,142.7 291.3,149.9 292.8,153.2 294.7,163.8 299.5,174.3 300.8,176.9M24.3,23.2 33.8,16.9 34.4,16.4 33.8,12.3 33.1,5.9M29.6,216.4 24.3,212.5M24.3,141.4 33.8,138.4 43.4,135.1 51.8,132.2 52.9,131.1 61.8,121.7 60,111.2 52.9,105.2 45.9,100.6 43.4,99.9 33.8,96.5 24.3,93M300.8,73.8 297.4,79.6 293.3,90.1 291.3,96.5 289.8,100.6 288.7,111.2 288.9,121.7 289.6,132.2 291.3,138.3 292.1,142.7 297,153.2 299.3,163.8 300.8,167.1M24.3,20.8 30.8,16.4 29.6,5.9M26.2,216.4 24.3,215.1M24.3,139.3 33.8,136.2 43.4,132.6 44.6,132.2 52.9,124.4 55.5,121.7 53.9,111.2 52.9,110.3 43.4,103.4 38.9,100.6 33.8,98.8 24.3,95.3M300.8,83.9 298.5,90.1 295.3,100.6 294.1,111.2 294.4,121.7 295,132.2 296.3,142.7 300.8,152.5M24.3,18.5 27.3,16.4 26.2,5.9M24.3,137.2 33.8,133.9 38.4,132.2 43.4,127.8 49.7,121.7 48.4,111.2 43.4,107.4 33.8,101.4 32.5,100.6 24.3,97.6M300.8,99.9 300.6,100.6 299,111.2 299.2,121.7 299.9,132.2 300.6,142.7 300.8,143.2M24.3,135.1 32.4,132.2 33.8,131.3 43.4,122.6 44.3,121.7 43.4,114.5 43,111.2 33.8,104.7 26.4,100.6 24.3,99.8M24.3,133.1 26.7,132.2 33.8,127.4 40,121.7 38.2,111.2 33.8,108 24.3,102.5M24.3,130.3 33.8,123.5 35.8,121.7 33.8,112.5 33.5,111.1 24.3,105.3M24.3,127 31.5,121.7 29,111.2 24.3,108.2M24.3,123.7 27,121.7 24.5,111.2 24.3,111" fill="none" stroke="#0c0c10" stroke-width="0.6" stroke-linejoin="round"/>
</g>
<rect x="24.3" y="5.9" width="276.5" height="210.5" fill="none" stroke="#262626" stroke-width="0.7"/>
<path d="M24.3,216.4 h2.6 M300.8,216.4 h-2.6 M24.3,182.9 h2.6 M300.8,182.9 h-2.6 M24.3,149.4 h2.6 M300.8,149.4 h-2.6 M24.3,115.9 h2.6 M300.8,115.9 h-2.6 M24.3,82.4 h2.6 M300.8,82.4 h-2.6 M24.3,48.9 h2.6 M300.8,48.9 h-2.6 M24.3,15.4 h2.6 M300.8,15.4 h-2.6 M24.3,216.4 v-2.6 M24.3,5.9 v2.6 M65.9,216.4 v-1.4 M65.9,5.9 v1.4 M90.3,216.4 v-1.4 M90.3,5.9 v1.4 M107.5,216.4 v-1.4 M107.5,5.9 v1.4 M120.9,216.4 v-1.4 M120.9,5.9 v1.4 M131.9,216.4 v-1.4 M131.9,5.9 v1.4 M141.1,216.4 v-1.4 M141.1,5.9 v1.4 M149.2,216.4 v-1.4 M149.2,5.9 v1.4 M156.2,216.4 v-1.4 M156.2,5.9 v1.4 M162.6,216.4 v-2.6 M162.6,5.9 v2.6 M204.2,216.4 v-1.4 M204.2,5.9 v1.4 M228.5,216.4 v-1.4 M228.5,5.9 v1.4 M245.8,216.4 v-1.4 M245.8,5.9 v1.4 M259.2,216.4 v-1.4 M259.2,5.9 v1.4 M270.1,216.4 v-1.4 M270.1,5.9 v1.4 M279.4,216.4 v-1.4 M279.4,5.9 v1.4 M287.4,216.4 v-1.4 M287.4,5.9 v1.4 M294.5,216.4 v-1.4 M294.5,5.9 v1.4" stroke="#262626" stroke-width="0.6" fill="none"/>
<g fill="#00ff00" stroke="#083008" stroke-width="0.6"><circle cx="81.5" cy="216.4" r="1.95"/><circle cx="91" cy="216.4" r="1.95"/><circle cx="100.6" cy="216.4" r="1.95"/><circle cx="110.1" cy="216.4" r="1.95"/><circle cx="119.6" cy="216.4" r="1.95"/><circle cx="129.2" cy="216.4" r="1.95"/><circle cx="138.7" cy="216.4" r="1.95"/><circle cx="167.3" cy="216.4" r="1.95"/><circle cx="176.9" cy="216.4" r="1.95"/><circle cx="186.4" cy="216.4" r="1.95"/><circle cx="195.9" cy="216.4" r="1.95"/><circle cx="205.5" cy="216.4" r="1.95"/><circle cx="215" cy="216.4" r="1.95"/><circle cx="224.5" cy="216.4" r="1.95"/><circle cx="234.1" cy="216.4" r="1.95"/><circle cx="243.6" cy="216.4" r="1.95"/><circle cx="253.1" cy="216.4" r="1.95"/><circle cx="262.7" cy="216.4" r="1.95"/><circle cx="72" cy="205.9" r="1.95"/><circle cx="81.5" cy="205.9" r="1.95"/><circle cx="91" cy="205.9" r="1.95"/><circle cx="100.6" cy="205.9" r="1.95"/><circle cx="110.1" cy="205.9" r="1.95"/><circle cx="119.6" cy="205.9" r="1.95"/><circle cx="129.2" cy="205.9" r="1.95"/><circle cx="195.9" cy="205.9" r="1.95"/><circle cx="205.5" cy="205.9" r="1.95"/><circle cx="215" cy="205.9" r="1.95"/><circle cx="224.5" cy="205.9" r="1.95"/><circle cx="234.1" cy="205.9" r="1.95"/><circle cx="243.6" cy="205.9" r="1.95"/><circle cx="253.1" cy="205.9" r="1.95"/><circle cx="43.4" cy="195.3" r="1.95"/><circle cx="52.9" cy="195.3" r="1.95"/><circle cx="62.4" cy="195.3" r="1.95"/><circle cx="72" cy="195.3" r="1.95"/><circle cx="81.5" cy="195.3" r="1.95"/><circle cx="91" cy="195.3" r="1.95"/><circle cx="100.6" cy="195.3" r="1.95"/><circle cx="110.1" cy="195.3" r="1.95"/><circle cx="186.4" cy="195.3" r="1.95"/><circle cx="195.9" cy="195.3" r="1.95"/><circle cx="205.5" cy="195.3" r="1.95"/><circle cx="215" cy="195.3" r="1.95"/><circle cx="224.5" cy="195.3" r="1.95"/><circle cx="234.1" cy="195.3" r="1.95"/><circle cx="243.6" cy="195.3" r="1.95"/><circle cx="253.1" cy="195.3" r="1.95"/><circle cx="24.3" cy="184.8" r="1.95"/><circle cx="33.8" cy="184.8" r="1.95"/><circle cx="43.4" cy="184.8" r="1.95"/><circle cx="52.9" cy="184.8" r="1.95"/><circle cx="62.4" cy="184.8" r="1.95"/><circle cx="72" cy="184.8" r="1.95"/><circle cx="81.5" cy="184.8" r="1.95"/><circle cx="167.3" cy="184.8" r="1.95"/><circle cx="176.9" cy="184.8" r="1.95"/><circle cx="186.4" cy="184.8" r="1.95"/><circle cx="195.9" cy="184.8" r="1.95"/><circle cx="205.5" cy="184.8" r="1.95"/><circle cx="215" cy="184.8" r="1.95"/><circle cx="224.5" cy="184.8" r="1.95"/><circle cx="234.1" cy="184.8" r="1.95"/><circle cx="243.6" cy="184.8" r="1.95"/><circle cx="24.3" cy="174.3" r="1.95"/><circle cx="33.8" cy="174.3" r="1.95"/><circle cx="43.4" cy="174.3" r="1.95"/><circle cx="52.9" cy="174.3" r="1.95"/><circle cx="119.6" cy="174.3" r="1.95"/><circle cx="129.2" cy="174.3" r="1.95"/><circle cx="138.7" cy="174.3" r="1.95"/><circle cx="148.2" cy="174.3" r="1.95"/><circle cx="157.8" cy="174.3" r="1.95"/><circle cx="167.3" cy="174.3" r="1.95"/><circle cx="176.9" cy="174.3" r="1.95"/><circle cx="186.4" cy="174.3" r="1.95"/><circle cx="195.9" cy="174.3" r="1.95"/><circle cx="205.5" cy="174.3" r="1.95"/><circle cx="215" cy="174.3" r="1.95"/><circle cx="224.5" cy="174.3" r="1.95"/><circle cx="234.1" cy="174.3" r="1.95"/><circle cx="24.3" cy="163.8" r="1.95"/><circle cx="33.8" cy="163.8" r="1.95"/><circle cx="43.4" cy="163.8" r="1.95"/><circle cx="52.9" cy="163.8" r="1.95"/><circle cx="62.4" cy="163.8" r="1.95"/><circle cx="72" cy="163.8" r="1.95"/><circle cx="81.5" cy="163.8" r="1.95"/><circle cx="91" cy="163.8" r="1.95"/><circle cx="100.6" cy="163.8" r="1.95"/><circle cx="110.1" cy="163.8" r="1.95"/><circle cx="119.6" cy="163.8" r="1.95"/><circle cx="129.2" cy="163.8" r="1.95"/><circle cx="138.7" cy="163.8" r="1.95"/><circle cx="148.2" cy="163.8" r="1.95"/><circle cx="157.8" cy="163.8" r="1.95"/><circle cx="167.3" cy="163.8" r="1.95"/><circle cx="176.9" cy="163.8" r="1.95"/><circle cx="186.4" cy="163.8" r="1.95"/><circle cx="195.9" cy="163.8" r="1.95"/><circle cx="205.5" cy="163.8" r="1.95"/><circle cx="215" cy="163.8" r="1.95"/><circle cx="72" cy="153.2" r="1.95"/><circle cx="81.5" cy="153.2" r="1.95"/><circle cx="91" cy="153.2" r="1.95"/><circle cx="100.6" cy="153.2" r="1.95"/><circle cx="110.1" cy="153.2" r="1.95"/><circle cx="119.6" cy="153.2" r="1.95"/><circle cx="129.2" cy="153.2" r="1.95"/><circle cx="138.7" cy="153.2" r="1.95"/><circle cx="148.2" cy="153.2" r="1.95"/><circle cx="157.8" cy="153.2" r="1.95"/><circle cx="167.3" cy="153.2" r="1.95"/><circle cx="176.9" cy="153.2" r="1.95"/><circle cx="186.4" cy="153.2" r="1.95"/><circle cx="195.9" cy="153.2" r="1.95"/><circle cx="33.8" cy="79.6" r="1.95"/><circle cx="43.4" cy="79.6" r="1.95"/><circle cx="52.9" cy="79.6" r="1.95"/><circle cx="62.4" cy="79.6" r="1.95"/><circle cx="72" cy="79.6" r="1.95"/><circle cx="81.5" cy="79.6" r="1.95"/><circle cx="91" cy="79.6" r="1.95"/><circle cx="100.6" cy="79.6" r="1.95"/><circle cx="110.1" cy="79.6" r="1.95"/><circle cx="119.6" cy="79.6" r="1.95"/><circle cx="129.2" cy="79.6" r="1.95"/><circle cx="138.7" cy="79.6" r="1.95"/><circle cx="148.2" cy="79.6" r="1.95"/><circle cx="157.8" cy="79.6" r="1.95"/><circle cx="167.3" cy="79.6" r="1.95"/><circle cx="176.9" cy="79.6" r="1.95"/><circle cx="186.4" cy="79.6" r="1.95"/><circle cx="195.9" cy="79.6" r="1.95"/><circle cx="205.5" cy="79.6" r="1.95"/><circle cx="24.3" cy="69.1" r="1.95"/><circle cx="33.8" cy="69.1" r="1.95"/><circle cx="43.4" cy="69.1" r="1.95"/><circle cx="52.9" cy="69.1" r="1.95"/><circle cx="62.4" cy="69.1" r="1.95"/><circle cx="72" cy="69.1" r="1.95"/><circle cx="81.5" cy="69.1" r="1.95"/><circle cx="91" cy="69.1" r="1.95"/><circle cx="100.6" cy="69.1" r="1.95"/><circle cx="110.1" cy="69.1" r="1.95"/><circle cx="119.6" cy="69.1" r="1.95"/><circle cx="129.2" cy="69.1" r="1.95"/><circle cx="138.7" cy="69.1" r="1.95"/><circle cx="148.2" cy="69.1" r="1.95"/><circle cx="157.8" cy="69.1" r="1.95"/><circle cx="167.3" cy="69.1" r="1.95"/><circle cx="176.9" cy="69.1" r="1.95"/><circle cx="186.4" cy="69.1" r="1.95"/><circle cx="195.9" cy="69.1" r="1.95"/><circle cx="205.5" cy="69.1" r="1.95"/><circle cx="215" cy="69.1" r="1.95"/><circle cx="224.5" cy="69.1" r="1.95"/><circle cx="24.3" cy="58.5" r="1.95"/><circle cx="33.8" cy="58.5" r="1.95"/><circle cx="43.4" cy="58.5" r="1.95"/><circle cx="52.9" cy="58.5" r="1.95"/><circle cx="62.4" cy="58.5" r="1.95"/><circle cx="72" cy="58.5" r="1.95"/><circle cx="81.5" cy="58.5" r="1.95"/><circle cx="91" cy="58.5" r="1.95"/><circle cx="100.6" cy="58.5" r="1.95"/><circle cx="110.1" cy="58.5" r="1.95"/><circle cx="119.6" cy="58.5" r="1.95"/><circle cx="129.2" cy="58.5" r="1.95"/><circle cx="138.7" cy="58.5" r="1.95"/><circle cx="148.2" cy="58.5" r="1.95"/><circle cx="157.8" cy="58.5" r="1.95"/><circle cx="167.3" cy="58.5" r="1.95"/><circle cx="176.9" cy="58.5" r="1.95"/><circle cx="186.4" cy="58.5" r="1.95"/><circle cx="195.9" cy="58.5" r="1.95"/><circle cx="205.5" cy="58.5" r="1.95"/><circle cx="215" cy="58.5" r="1.95"/><circle cx="224.5" cy="58.5" r="1.95"/><circle cx="234.1" cy="58.5" r="1.95"/><circle cx="24.3" cy="48" r="1.95"/><circle cx="33.8" cy="48" r="1.95"/><circle cx="43.4" cy="48" r="1.95"/><circle cx="52.9" cy="48" r="1.95"/><circle cx="62.4" cy="48" r="1.95"/><circle cx="72" cy="48" r="1.95"/><circle cx="81.5" cy="48" r="1.95"/><circle cx="91" cy="48" r="1.95"/><circle cx="100.6" cy="48" r="1.95"/><circle cx="110.1" cy="48" r="1.95"/><circle cx="119.6" cy="48" r="1.95"/><circle cx="129.2" cy="48" r="1.95"/><circle cx="138.7" cy="48" r="1.95"/><circle cx="148.2" cy="48" r="1.95"/><circle cx="157.8" cy="48" r="1.95"/><circle cx="167.3" cy="48" r="1.95"/><circle cx="176.9" cy="48" r="1.95"/><circle cx="186.4" cy="48" r="1.95"/><circle cx="195.9" cy="48" r="1.95"/><circle cx="205.5" cy="48" r="1.95"/><circle cx="215" cy="48" r="1.95"/><circle cx="224.5" cy="48" r="1.95"/><circle cx="234.1" cy="48" r="1.95"/><circle cx="243.6" cy="48" r="1.95"/><circle cx="62.4" cy="37.5" r="1.95"/><circle cx="72" cy="37.5" r="1.95"/><circle cx="81.5" cy="37.5" r="1.95"/><circle cx="91" cy="37.5" r="1.95"/><circle cx="100.6" cy="37.5" r="1.95"/><circle cx="110.1" cy="37.5" r="1.95"/><circle cx="119.6" cy="37.5" r="1.95"/><circle cx="129.2" cy="37.5" r="1.95"/><circle cx="138.7" cy="37.5" r="1.95"/><circle cx="148.2" cy="37.5" r="1.95"/><circle cx="157.8" cy="37.5" r="1.95"/><circle cx="167.3" cy="37.5" r="1.95"/><circle cx="176.9" cy="37.5" r="1.95"/><circle cx="186.4" cy="37.5" r="1.95"/><circle cx="195.9" cy="37.5" r="1.95"/><circle cx="205.5" cy="37.5" r="1.95"/><circle cx="215" cy="37.5" r="1.95"/><circle cx="224.5" cy="37.5" r="1.95"/><circle cx="234.1" cy="37.5" r="1.95"/><circle cx="243.6" cy="37.5" r="1.95"/><circle cx="253.1" cy="37.5" r="1.95"/><circle cx="81.5" cy="26.9" r="1.95"/><circle cx="91" cy="26.9" r="1.95"/><circle cx="100.6" cy="26.9" r="1.95"/><circle cx="110.1" cy="26.9" r="1.95"/><circle cx="119.6" cy="26.9" r="1.95"/><circle cx="129.2" cy="26.9" r="1.95"/><circle cx="138.7" cy="26.9" r="1.95"/><circle cx="148.2" cy="26.9" r="1.95"/><circle cx="157.8" cy="26.9" r="1.95"/><circle cx="167.3" cy="26.9" r="1.95"/><circle cx="176.9" cy="26.9" r="1.95"/><circle cx="186.4" cy="26.9" r="1.95"/><circle cx="195.9" cy="26.9" r="1.95"/><circle cx="205.5" cy="26.9" r="1.95"/><circle cx="215" cy="26.9" r="1.95"/><circle cx="224.5" cy="26.9" r="1.95"/><circle cx="234.1" cy="26.9" r="1.95"/><circle cx="243.6" cy="26.9" r="1.95"/><circle cx="253.1" cy="26.9" r="1.95"/><circle cx="262.7" cy="26.9" r="1.95"/><circle cx="91" cy="16.4" r="1.95"/><circle cx="100.6" cy="16.4" r="1.95"/><circle cx="110.1" cy="16.4" r="1.95"/><circle cx="119.6" cy="16.4" r="1.95"/><circle cx="129.2" cy="16.4" r="1.95"/><circle cx="138.7" cy="16.4" r="1.95"/><circle cx="148.2" cy="16.4" r="1.95"/><circle cx="157.8" cy="16.4" r="1.95"/><circle cx="167.3" cy="16.4" r="1.95"/><circle cx="176.9" cy="16.4" r="1.95"/><circle cx="186.4" cy="16.4" r="1.95"/><circle cx="195.9" cy="16.4" r="1.95"/><circle cx="205.5" cy="16.4" r="1.95"/><circle cx="215" cy="16.4" r="1.95"/><circle cx="224.5" cy="16.4" r="1.95"/><circle cx="234.1" cy="16.4" r="1.95"/><circle cx="243.6" cy="16.4" r="1.95"/><circle cx="253.1" cy="16.4" r="1.95"/><circle cx="262.7" cy="16.4" r="1.95"/><circle cx="81.5" cy="5.9" r="1.95"/><circle cx="91" cy="5.9" r="1.95"/><circle cx="100.6" cy="5.9" r="1.95"/><circle cx="110.1" cy="5.9" r="1.95"/><circle cx="119.6" cy="5.9" r="1.95"/><circle cx="129.2" cy="5.9" r="1.95"/><circle cx="138.7" cy="5.9" r="1.95"/><circle cx="176.9" cy="5.9" r="1.95"/><circle cx="186.4" cy="5.9" r="1.95"/><circle cx="195.9" cy="5.9" r="1.95"/><circle cx="205.5" cy="5.9" r="1.95"/><circle cx="215" cy="5.9" r="1.95"/><circle cx="224.5" cy="5.9" r="1.95"/><circle cx="234.1" cy="5.9" r="1.95"/><circle cx="243.6" cy="5.9" r="1.95"/><circle cx="253.1" cy="5.9" r="1.95"/><circle cx="262.7" cy="5.9" r="1.95"/><circle cx="148.2" cy="90.1" r="1.95"/><circle cx="167.3" cy="90.1" r="1.95"/></g>
<g fill="#ff0000" stroke="#400808" stroke-width="0.6"><circle cx="148.2" cy="216.4" r="2.35"/><circle cx="157.8" cy="216.4" r="2.35"/><circle cx="138.7" cy="205.9" r="2.35"/><circle cx="148.2" cy="205.9" r="2.35"/><circle cx="157.8" cy="205.9" r="2.35"/><circle cx="167.3" cy="205.9" r="2.35"/><circle cx="176.9" cy="205.9" r="2.35"/><circle cx="186.4" cy="205.9" r="2.35"/><circle cx="119.6" cy="195.3" r="2.35"/><circle cx="129.2" cy="195.3" r="2.35"/><circle cx="138.7" cy="195.3" r="2.35"/><circle cx="148.2" cy="195.3" r="2.35"/><circle cx="157.8" cy="195.3" r="2.35"/><circle cx="167.3" cy="195.3" r="2.35"/><circle cx="176.9" cy="195.3" r="2.35"/><circle cx="91" cy="184.8" r="2.35"/><circle cx="100.6" cy="184.8" r="2.35"/><circle cx="110.1" cy="184.8" r="2.35"/><circle cx="119.6" cy="184.8" r="2.35"/><circle cx="129.2" cy="184.8" r="2.35"/><circle cx="138.7" cy="184.8" r="2.35"/><circle cx="148.2" cy="184.8" r="2.35"/><circle cx="157.8" cy="184.8" r="2.35"/><circle cx="62.4" cy="174.3" r="2.35"/><circle cx="72" cy="174.3" r="2.35"/><circle cx="81.5" cy="174.3" r="2.35"/><circle cx="91" cy="174.3" r="2.35"/><circle cx="100.6" cy="174.3" r="2.35"/><circle cx="110.1" cy="174.3" r="2.35"/><circle cx="148.2" cy="5.9" r="2.35"/><circle cx="157.8" cy="5.9" r="2.35"/><circle cx="167.3" cy="5.9" r="2.35"/></g>
<rect x="205.5" y="7.4" width="92.8" height="32.2" fill="#fff" stroke="#3a3a3a" stroke-width="0.5"/>
<path d="M208.2,13.7 H232.5" stroke="#262626" stroke-width="0.6"/>
<circle cx="220.5" cy="24" r="2.8" fill="#00ff00" stroke="#0a3a0a" stroke-width="0.5"/>
<circle cx="220.5" cy="34.1" r="2.8" fill="#ff0000" stroke="#4a0a0a" stroke-width="0.5"/>
<text x="235.1" y="17" style="font-family:'Liberation Serif',serif;font-size:7.55px" fill="#111">Contour line</text>
<text x="235.1" y="27" style="font-family:'Liberation Serif',serif;font-size:7.55px" fill="#111">Favorable condition</text>
<text x="235.1" y="37" style="font-family:'Liberation Serif',serif;font-size:7.55px" fill="#111">Optimal condition</text>
<text x="20.1" y="219.9" text-anchor="end" style="font-family:'Liberation Serif',serif;font-size:10px" fill="#111">0</text>
<text x="20.1" y="186.4" text-anchor="end" style="font-family:'Liberation Serif',serif;font-size:10px" fill="#111">1</text>
<text x="20.1" y="152.9" text-anchor="end" style="font-family:'Liberation Serif',serif;font-size:10px" fill="#111">2</text>
<text x="20.1" y="119.4" text-anchor="end" style="font-family:'Liberation Serif',serif;font-size:10px" fill="#111">3</text>
<text x="20.1" y="85.9" text-anchor="end" style="font-family:'Liberation Serif',serif;font-size:10px" fill="#111">4</text>
<text x="20.1" y="52.4" text-anchor="end" style="font-family:'Liberation Serif',serif;font-size:10px" fill="#111">5</text>
<text x="20.1" y="18.9" text-anchor="end" style="font-family:'Liberation Serif',serif;font-size:10px" fill="#111">6</text>
<text x="15.7" y="234.7" style="font-family:'Liberation Serif',serif;font-size:10px" fill="#111">10<tspan dy="-4.6" style="font-size:8px">-1</tspan></text>
<text x="155.8" y="234.7" style="font-family:'Liberation Serif',serif;font-size:10px" fill="#111">10<tspan dy="-4.6" style="font-size:8px">0</tspan></text>
<text x="294" y="234.7" style="font-family:'Liberation Serif',serif;font-size:10px" fill="#111">10<tspan dy="-4.6" style="font-size:8px">1</tspan></text>
<text x="111.4" y="249.8" style="font-family:'Liberation Serif',serif;font-size:11.0px" fill="#111">Eccentricity ratio <tspan font-style="italic">e</tspan><tspan dy="4.6" dx="0.5" style="font-size:8.6px">1</tspan><tspan dy="-4.6" dx="0.5">/</tspan><tspan font-style="italic">e</tspan><tspan dy="4.6" dx="0.5" style="font-size:8.6px">2</tspan></text>
<text transform="translate(8.7,189.3) rotate(-90)" style="font-family:'Liberation Serif',serif;font-size:11px" fill="#111" textLength="27.9" lengthAdjust="spacing">Initial</text>
<text transform="translate(8.7,157.7) rotate(-90)" style="font-family:'Liberation Serif',serif;font-size:11px" fill="#111" textLength="28.3" lengthAdjust="spacing">phase</text>
<text transform="translate(8.7,126.3) rotate(-90)" style="font-family:'Liberation Serif',serif;font-size:11px" fill="#111" textLength="49.7" lengthAdjust="spacing">difference</text>
<text transform="translate(8.7,72.9) rotate(-90)" style="font-family:'Liberation Serif',serif;font-size:12.6px" fill="#111" >Δ</text>
<g fill="none" stroke="#222"><ellipse cx="6.5" cy="59.4" rx="2.7" ry="3.3" stroke-width="0.8" transform="rotate(8 6.5 59.4)"/><path d="M1.3,58.3 L10.7,60.3" stroke-width="0.65"/></g>
<text transform="translate(8.7,52.6) rotate(-90)" style="font-family:'Liberation Serif',serif;font-size:11px" fill="#111" textLength="23.6" lengthAdjust="spacing">(rad)</text>
<defs><linearGradient id="cba" x1="0" y1="0" x2="0" y2="1"><stop offset="0.0000" stop-color="#f9fb15"/><stop offset="0.0312" stop-color="#f6ef20"/><stop offset="0.0625" stop-color="#f5e327"/><stop offset="0.0938" stop-color="#f9d62d"/><stop offset="0.1250" stop-color="#feca33"/><stop offset="0.1562" stop-color="#febe3c"/><stop offset="0.1875" stop-color="#f1ba37"/><stop offset="0.2188" stop-color="#debc29"/><stop offset="0.2500" stop-color="#c8c129"/><stop offset="0.2812" stop-color="#afc636"/><stop offset="0.3125" stop-color="#94ca4a"/><stop offset="0.3438" stop-color="#77cc60"/><stop offset="0.3750" stop-color="#5ccc76"/><stop offset="0.4062" stop-color="#43cb8a"/><stop offset="0.4375" stop-color="#34c79c"/><stop offset="0.4688" stop-color="#28c2ab"/><stop offset="0.5000" stop-color="#12beb9"/><stop offset="0.5312" stop-color="#00b9c6"/><stop offset="0.5625" stop-color="#0cb3d3"/><stop offset="0.5938" stop-color="#1aacdd"/><stop offset="0.6250" stop-color="#21a3e3"/><stop offset="0.6562" stop-color="#269ae9"/><stop offset="0.6875" stop-color="#2c90f0"/><stop offset="0.7188" stop-color="#2e85f8"/><stop offset="0.7500" stop-color="#347afd"/><stop offset="0.7812" stop-color="#3f6eff"/><stop offset="0.8125" stop-color="#4562fc"/><stop offset="0.8438" stop-color="#4757f7"/><stop offset="0.8750" stop-color="#484cef"/><stop offset="0.9062" stop-color="#4741e5"/><stop offset="0.9375" stop-color="#4536d5"/><stop offset="0.9688" stop-color="#422ebf"/><stop offset="1.0000" stop-color="#3e26a8"/></linearGradient></defs><rect x="306.8" y="5.4" width="14" height="211" fill="url(#cba)" stroke="#262626" stroke-width="0.6"/>
<text x="324.2" y="180.4" style="font-family:'Liberation Serif',serif;font-size:9.3px" fill="#111">5</text>
<text x="324.2" y="140.5" style="font-family:'Liberation Serif',serif;font-size:9.3px" fill="#111">10</text>
<text x="324.2" y="100.5" style="font-family:'Liberation Serif',serif;font-size:9.3px" fill="#111">15</text>
<text x="324.2" y="60.6" style="font-family:'Liberation Serif',serif;font-size:9.3px" fill="#111">20</text>
<text x="324.2" y="20.6" style="font-family:'Liberation Serif',serif;font-size:9.3px" fill="#111">25</text>
<path d="M320.8,177.2 h-1.8 M320.8,137.3 h-1.8 M320.8,97.3 h-1.8 M320.8,57.4 h-1.8 M320.8,17.4 h-1.8" stroke="#262626" stroke-width="0.6" fill="none"/>
<clipPath id="clipb"><rect x="374.3" y="6.4" width="280.4" height="209.6"/></clipPath>
<g clip-path="url(#clipb)">
<rect x="374.3" y="6.4" width="280.4" height="209.6" fill="#3e26a8"/>
<path d="M374.3,216 384,216 393.6,216 403.3,216 413,216 422.6,216 432.3,216 442,216 451.7,216 461.3,216 471,216 474.1,216 471,212 465.1,205.5 461.3,203.1 451.7,197.9 444.9,195 442,193.8 432.3,191.3 422.6,188.9 413,187 403.3,184.8 402.2,184.6 393.6,180.3 384,177.3 374.3,174.8 374.3,184.6 374.3,195 374.3,205.5 374.3,216ZM565.9,205.5 567.7,210.9 569.2,216 577.3,216 587,216 596.7,216 606.4,216 616,216 625.7,216 635.4,216 645,216 654.7,216 654.7,205.5 654.7,195 654.7,184.6 654.7,174.1 654.7,163.6 654.7,153.1 654.7,142.6 654.7,132.2 654.7,121.7 654.7,111.2 654.7,100.7 654.7,90.2 654.7,79.8 654.7,69.3 654.7,58.8 654.7,48.3 654.7,37.8 654.7,27.4 654.7,16.9 654.7,6.4 645,6.4 635.4,6.4 625.7,6.4 616,6.4 606.4,6.4 596.7,6.4 587,6.4 577.3,6.4 569.2,6.4 568.5,16.9 567.7,19.7 565,27.4 559.7,37.8 558,39.2 548.3,46.5 546.2,48.3 538.7,51.8 529,54.5 519.3,56 509.7,57.8 506.3,58.8 500,60.3 490.3,61.8 480.7,62.7 471,62.6 461.3,62.3 451.7,61.4 442,60.6 437.8,58.8 442,55.9 451.6,48.3 451.7,48.3 461.3,40 463.3,37.8 471,29.2 472.4,27.4 474.8,16.9 474.1,6.4 471,6.4 461.3,6.4 451.7,6.4 442,6.4 432.3,6.4 422.6,6.4 413,6.4 403.3,6.4 393.6,6.4 384,6.4 374.3,6.4 374.3,16.9 374.3,27.4 374.3,37.8 374.3,48.3 374.3,58.8 374.3,69.3 374.3,79.8 374.3,90.2 374.3,100.7 374.3,111.2 374.3,121.7 374.3,132.2 374.3,142.6 374.3,153.1 374.3,163.6 374.3,173.3 384,171.5 393.6,170.3 403.3,169.9 413,168.4 422.6,167.2 432.3,167.5 442,167.7 451.7,167.5 461.3,167.6 471,168.1 480.7,168.5 490.3,169 500,170.5 509.7,172.8 515.2,174.1 519.3,175.6 529,179 538.7,181.5 548.3,184.5 548.5,184.6 558,191.9 561.6,195 565.9,205.5Z" fill="#4433cc" fill-rule="evenodd"/>
<path d="M374.3,216 384,216 393.6,216 403.3,216 413,216 422.6,216 432.3,216 442,216 451.7,216 454.6,216 451.7,213.1 443.7,205.5 442,204.5 432.3,199.9 422.6,196.5 418.3,195 413,193.1 403.3,189.7 393.6,187.3 384,185.6 374.3,184.7 374.3,195 374.3,205.5 374.3,216ZM591.1,216 596.7,216 606.4,216 616,216 625.7,216 635.4,216 645,216 654.7,216 654.7,205.5 654.7,195 654.7,184.6 654.7,174.1 654.7,163.6 654.7,153.1 654.7,142.6 654.7,132.2 654.7,121.7 654.7,111.2 654.7,100.7 654.7,90.2 654.7,79.8 654.7,69.3 654.7,58.8 654.7,48.3 654.7,37.8 654.7,27.4 654.7,16.9 654.7,6.4 645,6.4 635.4,6.4 625.7,6.4 616,6.4 606.4,6.4 596.7,6.4 591.1,6.4 590.4,16.9 587,25.3 586.1,27.4 579,37.8 577.3,39.6 567.7,48.2 567.5,48.3 558,54.4 551.1,58.8 548.3,60.6 538.7,65.5 529,68.8 525.8,69.3 519.3,70.2 509.7,72.4 500,73.9 490.3,74.5 480.7,74.4 471,73 461.3,72.6 451.7,72.1 442,72.7 432.3,72.1 422.6,72.3 413,71.5 403.3,70.9 393.6,70.6 384,70.2 374.3,70 374.3,79.8 374.3,90.2 374.3,100.7 374.3,111.2 374.3,121.7 374.3,132.2 374.3,142.6 374.3,153.1 374.3,163.2 384,163.3 393.6,163 403.3,162.5 413,161.6 422.6,160.6 432.3,160.3 442,160.1 451.7,159.8 461.3,159.9 471,160.3 480.7,160.5 490.3,160.7 500,161.4 509.7,162.9 513.4,163.6 519.3,165 529,166.8 538.7,169.4 548.3,172.3 555,174.1 558,175 567.7,180.2 573.3,184.6 577.3,188.9 582.5,195 587,203.2 588.1,205.5 591.1,216ZM374.3,48.3 374.3,56.5 384,55.6 393.6,54.7 403.3,53.3 413,50.4 417.4,48.3 422.6,46 431.9,37.8 432.3,37.5 442,29.6 444.9,27.4 451.7,19.1 452.5,16.9 454.6,6.4 451.7,6.4 442,6.4 432.3,6.4 422.6,6.4 413,6.4 403.3,6.4 393.6,6.4 384,6.4 374.3,6.4 374.3,16.9 374.3,27.4 374.3,37.8 374.3,48.3Z" fill="#4743e7" fill-rule="evenodd"/>
<path d="M374.3,216 384,216 393.6,216 403.3,216 413,216 422.6,216 432.3,216 440.4,216 432.3,207.9 429.6,205.5 422.6,202.1 413,198.2 404.2,195 403.3,194.7 393.6,191.3 384,188.9 374.3,187.3 374.3,195 374.3,205.5 374.3,216ZM605.7,216 606.4,216 616,216 625.7,216 635.4,216 645,216 654.7,216 654.7,205.5 654.7,195 654.7,184.6 654.7,174.1 654.7,163.6 654.7,153.1 654.7,142.6 654.7,132.2 654.7,121.7 654.7,111.2 654.7,100.7 654.7,90.2 654.7,79.8 654.7,69.3 654.7,58.8 654.7,48.3 654.7,37.8 654.7,27.4 654.7,16.9 654.7,6.4 645,6.4 635.4,6.4 625.7,6.4 616,6.4 606.4,6.4 605.7,6.4 605.4,16.9 601.9,27.4 596.7,35.1 594.6,37.8 587,46.6 585.4,48.3 577.3,54.4 570.9,58.8 567.7,61.8 558,68.8 557.2,69.3 548.3,73.2 538.7,76.5 529,79.1 526.3,79.8 519.3,81.2 509.7,82.5 500,83.1 490.3,83 480.7,82.6 471,81.2 461.3,80.4 451.7,80.1 442,80.2 432.3,80.6 422.6,80.8 415.1,79.8 413,79.1 403.3,76.1 393.6,74.5 384,73.3 374.3,72.5 374.3,79.8 374.3,90.2 374.3,100.7 374.3,111.2 374.3,121.7 374.3,132.2 374.3,142.6 374.3,153.1 374.3,160.8 384,160.6 393.6,160 403.3,159 413,157.6 422.6,156.2 432.3,155.3 442,154.6 451.7,153.7 461.3,153.7 471,154.1 480.7,154.5 490.3,154.5 500,154.8 509.7,155.2 519.3,156.4 529,157.1 538.7,158.6 548.3,161.3 555.4,163.6 558,164.5 567.7,168.5 577.3,173 578.9,174.1 587,181.8 589.4,184.6 596.7,194.5 597.1,195 602.3,205.5 605.7,216ZM374.3,48.3 374.3,51 384,49.1 387.7,48.3 393.6,47.4 403.3,45.1 413,41 417.6,37.8 422.6,33.9 429.3,27.4 432.3,23.4 437.8,16.9 440.4,6.4 432.3,6.4 422.6,6.4 413,6.4 403.3,6.4 393.6,6.4 384,6.4 374.3,6.4 374.3,16.9 374.3,27.4 374.3,37.8 374.3,48.3Z" fill="#4855f6" fill-rule="evenodd"/>
<path d="M374.3,216 384,216 393.6,216 403.3,216 413,216 422.6,216 430.6,216 422.6,208.7 418.8,205.5 413,202.8 403.3,198.6 393.6,195.2 393.2,195 384,192.1 374.3,189.9 374.3,195 374.3,205.5 374.3,216ZM613.3,205.5 616,213.6 616.8,216 625.7,216 635.4,216 645,216 654.7,216 654.7,205.5 654.7,195 654.7,184.6 654.7,174.1 654.7,163.6 654.7,153.1 654.7,142.6 654.7,132.2 654.7,121.7 654.7,111.2 654.7,100.7 654.7,90.2 654.7,79.8 654.7,69.3 654.7,58.8 654.7,48.3 654.7,37.8 654.7,27.4 654.7,16.9 654.7,6.4 645,6.4 635.4,6.4 625.7,6.4 616.8,6.4 616.9,16.9 616,21.9 614.8,27.4 610.5,37.8 606.4,45.2 603.8,48.3 596.7,52.4 588.4,58.8 587,61.4 580.8,69.3 577.3,71.2 567.7,76.6 562.2,79.8 558,81.9 548.3,84.8 538.7,87.1 529,88.9 519.3,90.1 517.1,90.2 509.7,90.6 500,90.7 495.9,90.2 490.3,89.7 480.7,88.6 471,87.3 461.3,86.1 451.7,85.3 442,84.9 432.3,84.6 422.6,84.2 413,82.5 403.3,80.5 398.8,79.8 393.6,78.4 384,76.3 374.3,75 374.3,79.8 374.3,90.2 374.3,100.7 374.3,111.2 374.3,121.7 374.3,132.2 374.3,142.6 374.3,153.1 374.3,158.4 384,157.9 393.6,157 403.3,155.5 413,153.6 415.6,153.1 422.6,152.1 432.3,151.1 442,150.3 451.7,149.4 461.3,148.9 471,148.5 480.7,148.1 490.3,147.5 500,147.1 509.7,147.1 519.3,147.8 529,148.2 538.7,149.3 548.3,151.5 553.1,153.1 558,154.8 567.7,159 577.3,163.4 577.7,163.6 587,169.6 591.3,174.1 596.7,180.3 600.7,184.6 606.4,192.5 608,195 613.3,205.5ZM374.3,37.8 374.3,46.6 384,44.9 393.6,42.7 403.3,39.1 405.7,37.8 413,33.6 420.2,27.4 422.6,24.2 428.4,16.9 430.6,6.4 422.6,6.4 413,6.4 403.3,6.4 393.6,6.4 384,6.4 374.3,6.4 374.3,16.9 374.3,27.4 374.3,37.8Z" fill="#4367fd" fill-rule="evenodd"/>
<path d="M374.3,216 384,216 393.6,216 403.3,216 413,216 422.2,216 413,208 409.8,205.5 403.3,202.4 393.6,198.5 384,195.3 383.2,195 374.3,192.5 374.3,195 374.3,205.5 374.3,216ZM622.8,205.5 625.7,214 626.3,216 635.4,216 645,216 654.7,216 654.7,205.5 654.7,195 654.7,184.6 654.7,174.1 654.7,163.6 654.7,153.1 654.7,142.6 654.7,132.2 654.7,121.7 654.7,111.2 654.7,100.7 654.7,90.2 654.7,79.8 654.7,69.3 654.7,58.8 654.7,48.3 654.7,37.8 654.7,27.4 654.7,16.9 654.7,6.4 645,6.4 635.4,6.4 626.3,6.4 626.4,16.9 625.7,22.2 624.8,27.4 621.9,37.8 617.4,48.3 616,49.7 606.4,56.2 602.4,58.8 596.7,68.2 596,69.3 587,77 582.3,79.8 577.3,82.8 567.7,88.5 564.1,90.2 558,93.5 548.3,96.5 538.7,98.4 529,99.6 519.3,99.8 509.7,99 500,98.4 490.3,97.1 480.7,95.4 471,93.6 461.3,91.9 451.7,90.4 449.9,90.2 442,89.5 432.3,88.7 422.6,87.7 413,85.4 403.3,83.1 393.6,81.3 385.4,79.8 384,79.4 374.3,77.5 374.3,79.8 374.3,90.2 374.3,100.7 374.3,111.2 374.3,121.7 374.3,132.2 374.3,142.6 374.3,153.1 374.3,156.1 384,155.2 393.6,153.9 398,153.1 403.3,152.3 413,150.5 422.6,148.7 432.3,147.5 442,146.5 451.7,145.3 461.3,144.3 471,143.1 474.2,142.6 480.7,141.4 490.3,139.7 500,138.4 509.7,138.2 519.3,138.8 529,139 538.7,139.9 548.3,142.2 549.5,142.6 558,145.2 567.7,149.3 575.7,153.1 577.3,153.9 587,159.6 591.2,163.6 596.7,169.4 600.4,174.1 606.4,180.3 611.1,184.6 616,192.5 617.4,195 622.8,205.5ZM374.3,37.8 374.3,43.1 384,41 393.6,38 394,37.8 403.3,33.9 412.5,27.4 413,26.8 420.7,16.9 422.2,6.4 413,6.4 403.3,6.4 393.6,6.4 384,6.4 374.3,6.4 374.3,16.9 374.3,27.4 374.3,37.8Z" fill="#347afd" fill-rule="evenodd"/>
<path d="M374.3,216 384,216 393.6,216 403.3,216 413,216 414.9,216 413,214.3 403.3,206.5 401.9,205.5 393.6,201.7 384,198 374.3,195.1 374.3,205.5 374.3,216ZM634.3,216 635.4,216 645,216 654.7,216 654.7,205.5 654.7,195 654.7,184.6 654.7,174.1 654.7,163.6 654.7,153.1 654.7,142.6 654.7,132.2 654.7,121.7 654.7,111.2 654.7,100.7 654.7,90.2 654.7,79.8 654.7,69.3 654.7,58.8 654.7,48.3 654.7,37.8 654.7,27.4 654.7,16.9 654.7,6.4 645,6.4 635.4,6.4 634.3,6.4 634.4,16.9 633.2,27.4 630.7,37.8 626.6,48.3 625.7,49.5 616.2,58.8 616,59.1 608.1,69.3 606.4,71.7 599,79.8 596.7,81.6 587,88.3 584,90.2 577.3,95.6 570,100.7 567.7,102.6 558,107.5 548.3,110.6 545.9,111.2 538.7,115.7 529,119 519.3,120.4 509.7,117.3 503.8,111.2 500,110.2 490.3,107.2 480.7,103.4 473.9,100.7 471,100.1 461.3,97.8 451.7,95.6 442,93.7 432.3,92.2 422.6,90.9 420,90.2 413,88.4 403.3,85.8 393.6,83.6 384,81.6 374.3,79.9 374.3,90.2 374.3,100.7 374.3,111.2 374.3,121.7 374.3,132.2 374.3,142.6 374.3,153.1 374.3,153.7 379.3,153.1 384,152.7 393.6,151.4 403.3,149.7 413,147.5 422.6,145.4 432.3,143.9 442,142.6 442,142.6 451.7,140.8 461.3,138.7 471,136.2 480.7,133.4 485.6,132.2 490.3,129.4 500,124.9 509.7,123.6 519.3,123 529,123.9 538.7,125.6 548.3,129.4 552.3,132.2 558,133.8 567.7,138.3 575,142.6 577.3,143.7 587,149.5 591.5,153.1 596.7,158 601.4,163.6 606.4,169.9 609.7,174.1 616,179.7 621.4,184.6 625.7,192.8 626.7,195 631,205.5 634.3,216ZM374.3,37.8 374.3,39.6 381.2,37.8 384,37.2 393.6,34 403.3,28.9 405.5,27.4 413,18.3 414.1,16.9 414.9,6.4 413,6.4 403.3,6.4 393.6,6.4 384,6.4 374.3,6.4 374.3,16.9 374.3,27.4 374.3,37.8Z" fill="#2d8cf3" fill-rule="evenodd"/>
<path d="M374.3,216 384,216 393.6,216 403.3,216 408.6,216 403.3,211.5 394.8,205.5 393.6,205 384,200.8 374.3,197.5 374.3,205.5 374.3,216ZM641.1,216 645,216 654.7,216 654.7,205.5 654.7,195 654.7,184.6 654.7,174.1 654.7,163.6 654.7,153.1 654.7,142.6 654.7,132.2 654.7,121.7 654.7,111.2 654.7,100.7 654.7,90.2 654.7,79.8 654.7,69.3 654.7,58.8 654.7,48.3 654.7,37.8 654.7,27.4 654.7,16.9 654.7,6.4 645,6.4 641.1,6.4 641.4,16.9 640.6,27.4 638.3,37.8 635.4,46.1 634.5,48.3 626.3,58.8 625.7,59.7 618.3,69.3 616,72.9 611,79.8 606.4,85 599.7,90.2 596.7,93.2 588.2,100.7 587,102.3 578.6,111.2 577.3,116.7 575.8,121.7 577.3,124.6 580.4,132.2 587,137.2 592,142.6 596.7,146.3 603.8,153.1 606.4,156.1 611.9,163.6 616,168.8 620.1,174.1 625.7,179.1 630.7,184.6 635,195 635.4,196 638.2,205.5 641.1,216ZM374.3,142.6 374.3,151.8 384,150.7 393.6,149.2 403.3,147.1 413,144.6 420.7,142.6 422.6,142.1 432.3,140.3 442,138.2 451.7,135.5 461.3,132.7 462.9,132.2 471,126 476.7,121.7 473.6,111.2 471,110 461.3,105.3 451.7,100.8 451.5,100.7 442,97.9 432.3,95.5 422.6,93.5 413,91.1 409.7,90.2 403.3,88.4 393.6,85.9 384,83.6 374.3,81.7 374.3,90.2 374.3,100.7 374.3,111.2 374.3,121.7 374.3,132.2 374.3,142.6ZM374.3,27.4 374.3,36.5 384,34 393.6,30.1 398.6,27.4 403.3,23.2 408.6,16.9 408.6,6.4 403.3,6.4 393.6,6.4 384,6.4 374.3,6.4 374.3,16.9 374.3,27.4Z" fill="#259ce7" fill-rule="evenodd"/>
<path d="M374.3,216 384,216 393.6,216 402.7,216 393.6,209.1 388.4,205.5 384,203.6 374.3,199.9 374.3,205.5 374.3,216ZM644.7,205.5 645,206.9 647,216 654.7,216 654.7,205.5 654.7,195 654.7,184.6 654.7,174.1 654.7,163.6 654.7,153.1 654.7,142.6 654.7,132.2 654.7,121.7 654.7,111.2 654.7,100.7 654.7,90.2 654.7,79.8 654.7,69.3 654.7,58.8 654.7,48.3 654.7,37.8 654.7,27.4 654.7,16.9 654.7,6.4 647,6.4 647.9,16.9 647.5,27.4 645.2,37.8 645,38.2 641.1,48.3 635.4,57.3 634.2,58.8 626.9,69.3 625.7,71.5 620.3,79.8 616,86.3 612.5,90.2 606.4,97.4 602.9,100.7 596.7,111.2 596.6,111.2 594.9,121.7 596.7,127.9 597.7,132.2 604.9,142.6 606.4,144 615.7,153.1 616,153.6 622,163.6 625.7,168.3 629.6,174.1 635.4,180.4 638.2,184.6 641.6,195 644.7,205.5ZM374.3,142.6 374.3,150.1 384,148.7 393.6,146.9 403.3,144.6 409.9,142.6 413,141.7 422.6,139.1 432.3,136.7 442,133.7 446.7,132.2 451.7,127.8 459.3,121.7 456.4,111.2 451.7,108.7 442,103 438.6,100.7 432.3,98.8 422.6,96.1 413,93.5 403.3,90.9 401,90.2 393.6,88.2 384,85.7 374.3,83.5 374.3,90.2 374.3,100.7 374.3,111.2 374.3,121.7 374.3,132.2 374.3,142.6ZM374.3,27.4 374.3,33.8 384,30.8 391.6,27.4 393.6,25.9 403.3,17 403.4,16.9 403.3,15.1 402.7,6.4 393.6,6.4 384,6.4 374.3,6.4 374.3,16.9 374.3,27.4Z" fill="#1caadf" fill-rule="evenodd"/>
<path d="M374.3,216 384,216 393.6,216 397.1,216 393.6,213.4 384,206.5 382.2,205.5 374.3,202.3 374.3,205.5 374.3,216ZM652,216 654.7,216 654.7,205.5 654.7,195 654.7,184.6 654.7,174.1 654.7,163.6 654.7,153.1 654.7,142.6 654.7,132.2 654.7,121.7 654.7,111.2 654.7,100.7 654.7,90.2 654.7,79.8 654.7,69.3 654.7,58.8 654.7,48.3 654.7,37.8 654.7,27.4 654.7,16.9 654.7,6.4 652,6.4 654,16.9 654.1,27.4 651.4,37.8 647.2,48.3 645,52.4 641,58.8 635.4,67.8 634.3,69.3 628.2,79.8 625.7,84.1 621.6,90.2 616,98.6 614.1,100.7 609.6,111.2 608,121.7 610.3,132.2 616,142.6 616,142.7 625.7,152.5 626.3,153.1 630.6,163.6 635.4,170.5 637.3,174.1 644.4,184.6 645,186.3 647.5,195 650.2,205.5 652,216ZM374.3,142.6 374.3,148.4 384,146.8 393.6,144.7 401.2,142.6 403.3,142 413,139.1 422.6,136.1 432.3,133 434.9,132.2 442,125.4 446.1,121.7 443.4,111.2 442,110.4 432.3,103.6 428.9,100.7 422.6,98.8 413,95.8 403.3,93.3 393.6,90.5 392.9,90.2 384,87.7 374.3,85.3 374.3,90.2 374.3,100.7 374.3,111.2 374.3,121.7 374.3,132.2 374.3,142.6ZM374.3,27.4 374.3,31.2 384,27.7 384.6,27.4 393.6,21.1 398.1,16.9 397.1,6.4 393.6,6.4 384,6.4 374.3,6.4 374.3,16.9 374.3,27.4Z" fill="#04b6ce" fill-rule="evenodd"/>
<path d="M374.3,216 384,216 391.9,216 384,209.9 376.4,205.5 374.3,204.7 374.3,205.5 374.3,216ZM652.6,195 654.7,202.3 654.7,195 654.7,184.6 654.7,174.1 654.7,163.6 654.7,153.1 654.7,142.6 654.7,132.2 654.7,121.7 654.7,111.2 654.7,100.7 654.7,90.2 654.7,79.8 654.7,69.3 654.7,58.8 654.7,48.3 654.7,43.7 652.6,48.3 647.3,58.8 645,62.5 640.7,69.3 635.4,79.7 635.3,79.8 629,90.2 625.7,96.5 623,100.7 619.9,111.2 619.2,121.7 620.8,132.2 625.5,142.6 625.7,142.9 634.8,153.1 635.4,154.6 637.7,163.6 643.6,174.1 645,176.3 649.3,184.6 652.6,195ZM374.3,142.6 374.3,146.7 384,144.8 392.8,142.6 393.6,142.4 403.3,139.4 413,136.4 422.6,133 425.2,132.2 432.3,124.7 435.5,121.7 432.8,111.2 432.3,110.8 422.6,102.6 420.7,100.7 413,98.2 403.3,95.7 393.6,92.9 385.6,90.2 384,89.8 374.3,87.1 374.3,90.2 374.3,100.7 374.3,111.2 374.3,121.7 374.3,132.2 374.3,142.6ZM374.3,27.4 374.3,28.5 377.3,27.4 384,24.2 393,16.9 391.9,6.4 384,6.4 374.3,6.4 374.3,16.9 374.3,27.4Z" fill="#12beb9" fill-rule="evenodd"/>
<path d="M374.3,216 384,216 387.5,216 384,213.3 374.3,207.1 374.3,216ZM653.9,184.6 654.7,186.8 654.7,184.6 654.7,174.1 654.7,163.6 654.7,153.1 654.7,142.6 654.7,132.2 654.7,121.7 654.7,111.2 654.7,100.7 654.7,90.2 654.7,79.8 654.7,69.3 654.7,58.8 654.7,55.7 653.2,58.8 646.7,69.3 645,72.3 641,79.8 635.6,90.2 635.4,91 630.5,100.7 628.6,111.2 628.5,121.7 629.5,132.2 633.6,142.6 635.4,144.6 641.2,153.1 643.6,163.6 645,166.1 648.7,174.1 653.9,184.6ZM374.3,142.6 374.3,145 384,142.8 384.7,142.6 393.6,139.9 403.3,136.9 413,133.8 417.4,132.2 422.6,125.7 426.5,121.7 424.2,111.2 422.6,109.8 413.5,100.7 413,100.6 403.3,98.1 393.6,95.2 384,92 379,90.2 374.3,88.9 374.3,90.2 374.3,100.7 374.3,111.2 374.3,121.7 374.3,132.2 374.3,142.6ZM374.3,16.9 374.3,26 384,20.8 388.8,16.9 387.5,6.4 384,6.4 374.3,6.4 374.3,16.9Z" fill="#30c5a2" fill-rule="evenodd"/>
<path d="M374.3,216 383.2,216 374.3,209.6 374.3,216ZM653.4,174.1 654.7,176.7 654.7,174.1 654.7,163.6 654.7,153.1 654.7,142.6 654.7,132.2 654.7,121.7 654.7,111.2 654.7,100.7 654.7,90.2 654.7,79.8 654.7,69.3 654.7,65.4 652.3,69.3 646.4,79.8 645,83 641.4,90.2 637.4,100.7 636.1,111.2 636.1,121.7 637,132.2 640.1,142.6 645,149.8 646.6,153.1 648.5,163.6 653.4,174.1ZM374.3,142.6 374.3,143.2 377,142.6 384,140.6 393.6,137.5 403.3,134.3 409.9,132.2 413,128.9 419,121.7 417.1,111.2 413,107.1 404.2,100.7 403.3,100.5 393.6,97.6 384,94.3 374.3,90.9 374.3,100.7 374.3,111.2 374.3,121.7 374.3,132.2 374.3,142.6ZM374.3,16.9 374.3,23.6 384,17.3 384.5,16.9 384,12.8 383.2,6.4 374.3,6.4 374.3,16.9Z" fill="#48cb86" fill-rule="evenodd"/>
<path d="M374.3,216 379.7,216 374.3,212.2 374.3,216ZM653.1,163.6 654.7,166.9 654.7,163.6 654.7,153.1 654.7,142.6 654.7,132.2 654.7,121.7 654.7,111.2 654.7,100.7 654.7,90.2 654.7,79.8 654.7,74 651.3,79.8 647.1,90.2 645,96.6 643.5,100.7 642.4,111.2 642.6,121.7 643.4,132.2 645,138.2 645.8,142.6 650.8,153.1 653.1,163.6ZM374.3,132.2 374.3,141.3 384,138.4 393.6,135 402.1,132.2 403.3,131.1 412.3,121.7 410.5,111.2 403.3,105.3 396.2,100.7 393.6,100 384,96.6 374.3,93.1 374.3,100.7 374.3,111.2 374.3,121.7 374.3,132.2ZM374.3,16.9 374.3,21.3 380.9,16.9 379.7,6.4 374.3,6.4 374.3,16.9Z" fill="#71cd64" fill-rule="evenodd"/>
<path d="M374.3,216 376.2,216 374.3,214.7 374.3,216ZM650.2,142.6 654.7,152.3 654.7,142.6 654.7,132.2 654.7,121.7 654.7,111.2 654.7,100.7 654.7,90.2 654.7,84 652.4,90.2 649.1,100.7 647.9,111.2 648.2,121.7 648.8,132.2 650.2,142.6ZM374.3,132.2 374.3,139.2 384,136.1 393.6,132.6 394.9,132.2 403.3,124.4 405.9,121.7 404.3,111.2 403.3,110.4 393.6,103.5 389.2,100.7 384,98.9 374.3,95.4 374.3,100.7 374.3,111.2 374.3,121.7 374.3,132.2ZM374.3,16.9 374.3,18.9 377.4,16.9 376.2,6.4 374.3,6.4 374.3,16.9Z" fill="#9fc942" fill-rule="evenodd"/>
<path d="M654.5,142.6 654.7,143.1 654.7,142.6 654.7,132.2 654.7,121.7 654.7,111.2 654.7,100.7 654.7,100 654.5,100.7 652.9,111.2 653.1,121.7 653.8,132.2 654.5,142.6ZM374.3,132.2 374.3,137.2 384,133.9 388.6,132.2 393.6,127.8 400.1,121.7 398.7,111.2 393.6,107.5 384,101.4 382.6,100.7 374.3,97.7 374.3,100.7 374.3,111.2 374.3,121.7 374.3,132.2Z" fill="#c8c129" fill-rule="evenodd"/>
<path d="M374.3,132.2 374.3,135.1 382.5,132.2 384,131.2 393.6,122.6 394.6,121.7 393.6,114.5 393.2,111.2 384,104.8 376.4,100.7 374.3,99.9 374.3,100.7 374.3,111.2 374.3,121.7 374.3,132.2Z" fill="#eaba30" fill-rule="evenodd"/>
<path d="M374.3,132.2 374.3,133 376.7,132.2 384,127.4 390.2,121.7 388.4,111.2 384,108.1 374.3,102.6 374.3,111.2 374.3,121.7 374.3,132.2Z" fill="#fec13a" fill-rule="evenodd"/>
<path d="M374.3,121.7 374.3,130.2 384,123.5 386,121.7 384,112.6 383.6,111.2 374.3,105.4 374.3,111.2 374.3,121.7Z" fill="#fad42e" fill-rule="evenodd"/>
<path d="M374.3,121.7 374.3,126.9 381.6,121.7 379.1,111.2 374.3,108.2 374.3,111.2 374.3,121.7Z" fill="#f5e825" fill-rule="evenodd"/>
<path d="M374.3,121.7 374.3,123.7 377,121.7 374.5,111.2 374.3,111.1 374.3,111.2 374.3,121.7Z" fill="#f9fb15" fill-rule="evenodd"/>
<path d="M474.1,216 471,212 465.1,205.5 461.3,203.1 451.7,197.9 444.9,195 442,193.8 432.3,191.3 422.6,188.9 413,187 403.3,184.8 402.2,184.6 393.6,180.3 384,177.3 374.3,174.8M374.3,173.3 384,171.5 393.6,170.3 403.3,169.9 413,168.4 422.6,167.2 432.3,167.5 442,167.7 451.7,167.5 461.3,167.6 471,168.1 480.7,168.5 490.3,169 500,170.5 509.7,172.8 515.2,174.1 519.3,175.6 529,179 538.7,181.5 548.3,184.5 548.5,184.6 558,191.9 561.6,195 565.9,205.5 567.7,210.9 569.2,216M569.2,6.4 568.5,16.9 567.7,19.7 565,27.4 559.7,37.8 558,39.2 548.3,46.5 546.2,48.3 538.7,51.8 529,54.5 519.3,56 509.7,57.8 506.3,58.8 500,60.3 490.3,61.8 480.7,62.7 471,62.6 461.3,62.3 451.7,61.4 442,60.6 437.8,58.8 442,55.9 451.6,48.3 451.7,48.3 461.3,40 463.3,37.8 471,29.2 472.4,27.4 474.8,16.9 474.1,6.4M454.6,216 451.7,213.1 443.7,205.5 442,204.5 432.3,199.9 422.6,196.5 418.3,195 413,193.1 403.3,189.7 393.6,187.3 384,185.6 374.3,184.7M374.3,163.2 384,163.3 393.6,163 403.3,162.5 413,161.6 422.6,160.6 432.3,160.3 442,160.1 451.7,159.8 461.3,159.9 471,160.3 480.7,160.5 490.3,160.7 500,161.4 509.7,162.9 513.4,163.6 519.3,165 529,166.8 538.7,169.4 548.3,172.3 555,174.1 558,175 567.7,180.2 573.3,184.6 577.3,188.9 582.5,195 587,203.2 588.1,205.5 591.1,216M374.3,56.5 384,55.6 393.6,54.7 403.3,53.3 413,50.4 417.4,48.3 422.6,46 431.9,37.8 432.3,37.5 442,29.6 444.9,27.4 451.7,19.1 452.5,16.9 454.6,6.4M591.1,6.4 590.4,16.9 587,25.3 586.1,27.4 579,37.8 577.3,39.6 567.7,48.2 567.5,48.3 558,54.4 551.1,58.8 548.3,60.6 538.7,65.5 529,68.8 525.8,69.3 519.3,70.2 509.7,72.4 500,73.9 490.3,74.5 480.7,74.4 471,73 461.3,72.6 451.7,72.1 442,72.7 432.3,72.1 422.6,72.3 413,71.5 403.3,70.9 393.6,70.6 384,70.2 374.3,70M440.4,216 432.3,207.9 429.6,205.5 422.6,202.1 413,198.2 404.2,195 403.3,194.7 393.6,191.3 384,188.9 374.3,187.3M374.3,160.8 384,160.6 393.6,160 403.3,159 413,157.6 422.6,156.2 432.3,155.3 442,154.6 451.7,153.7 461.3,153.7 471,154.1 480.7,154.5 490.3,154.5 500,154.8 509.7,155.2 519.3,156.4 529,157.1 538.7,158.6 548.3,161.3 555.4,163.6 558,164.5 567.7,168.5 577.3,173 578.9,174.1 587,181.8 589.4,184.6 596.7,194.5 597.1,195 602.3,205.5 605.7,216M374.3,51 384,49.1 387.7,48.3 393.6,47.4 403.3,45.1 413,41 417.6,37.8 422.6,33.9 429.3,27.4 432.3,23.4 437.8,16.9 440.4,6.4M605.7,6.4 605.4,16.9 601.9,27.4 596.7,35.1 594.6,37.8 587,46.6 585.4,48.3 577.3,54.4 570.9,58.8 567.7,61.8 558,68.8 557.2,69.3 548.3,73.2 538.7,76.5 529,79.1 526.3,79.8 519.3,81.2 509.7,82.5 500,83.1 490.3,83 480.7,82.6 471,81.2 461.3,80.4 451.7,80.1 442,80.2 432.3,80.6 422.6,80.8 415.1,79.8 413,79.1 403.3,76.1 393.6,74.5 384,73.3 374.3,72.5M430.6,216 422.6,208.7 418.8,205.5 413,202.8 403.3,198.6 393.6,195.2 393.2,195 384,192.1 374.3,189.9M374.3,158.4 384,157.9 393.6,157 403.3,155.5 413,153.6 415.6,153.1 422.6,152.1 432.3,151.1 442,150.3 451.7,149.4 461.3,148.9 471,148.5 480.7,148.1 490.3,147.5 500,147.1 509.7,147.1 519.3,147.8 529,148.2 538.7,149.3 548.3,151.5 553.1,153.1 558,154.8 567.7,159 577.3,163.4 577.7,163.6 587,169.6 591.3,174.1 596.7,180.3 600.7,184.6 606.4,192.5 608,195 613.3,205.5 616,213.6 616.8,216M374.3,46.6 384,44.9 393.6,42.7 403.3,39.1 405.7,37.8 413,33.6 420.2,27.4 422.6,24.2 428.4,16.9 430.6,6.4M616.8,6.4 616.9,16.9 616,21.9 614.8,27.4 610.5,37.8 606.4,45.2 603.8,48.3 596.7,52.4 588.4,58.8 587,61.4 580.8,69.3 577.3,71.2 567.7,76.6 562.2,79.8 558,81.9 548.3,84.8 538.7,87.1 529,88.9 519.3,90.1 517.1,90.2 509.7,90.6 500,90.7 495.9,90.2 490.3,89.7 480.7,88.6 471,87.3 461.3,86.1 451.7,85.3 442,84.9 432.3,84.6 422.6,84.2 413,82.5 403.3,80.5 398.8,79.8 393.6,78.4 384,76.3 374.3,75M422.2,216 413,208 409.8,205.5 403.3,202.4 393.6,198.5 384,195.3 383.2,195 374.3,192.5M374.3,156.1 384,155.2 393.6,153.9 398,153.1 403.3,152.3 413,150.5 422.6,148.7 432.3,147.5 442,146.5 451.7,145.3 461.3,144.3 471,143.1 474.2,142.6 480.7,141.4 490.3,139.7 500,138.4 509.7,138.2 519.3,138.8 529,139 538.7,139.9 548.3,142.2 549.5,142.6 558,145.2 567.7,149.3 575.7,153.1 577.3,153.9 587,159.6 591.2,163.6 596.7,169.4 600.4,174.1 606.4,180.3 611.1,184.6 616,192.5 617.4,195 622.8,205.5 625.7,214 626.3,216M374.3,43.1 384,41 393.6,38 394,37.8 403.3,33.9 412.5,27.4 413,26.8 420.7,16.9 422.2,6.4M626.3,6.4 626.4,16.9 625.7,22.2 624.8,27.4 621.9,37.8 617.4,48.3 616,49.7 606.4,56.2 602.4,58.8 596.7,68.2 596,69.3 587,77 582.3,79.8 577.3,82.8 567.7,88.5 564.1,90.2 558,93.5 548.3,96.5 538.7,98.4 529,99.6 519.3,99.8 509.7,99 500,98.4 490.3,97.1 480.7,95.4 471,93.6 461.3,91.9 451.7,90.4 449.9,90.2 442,89.5 432.3,88.7 422.6,87.7 413,85.4 403.3,83.1 393.6,81.3 385.4,79.8 384,79.4 374.3,77.5M414.9,216 413,214.3 403.3,206.5 401.9,205.5 393.6,201.7 384,198 374.3,195.1M374.3,153.7 379.3,153.1 384,152.7 393.6,151.4 403.3,149.7 413,147.5 422.6,145.4 432.3,143.9 442,142.6 442,142.6 451.7,140.8 461.3,138.7 471,136.2 480.7,133.4 485.6,132.2 490.3,129.4 500,124.9 509.7,123.6 519.3,123 529,123.9 538.7,125.6 548.3,129.4 552.3,132.2 558,133.8 567.7,138.3 575,142.6 577.3,143.7 587,149.5 591.5,153.1 596.7,158 601.4,163.6 606.4,169.9 609.7,174.1 616,179.7 621.4,184.6 625.7,192.8 626.7,195 631,205.5 634.3,216M374.3,39.6 381.2,37.8 384,37.2 393.6,34 403.3,28.9 405.5,27.4 413,18.3 414.1,16.9 414.9,6.4M634.3,6.4 634.4,16.9 633.2,27.4 630.7,37.8 626.6,48.3 625.7,49.5 616.2,58.8 616,59.1 608.1,69.3 606.4,71.7 599,79.8 596.7,81.6 587,88.3 584,90.2 577.3,95.6 570,100.7 567.7,102.6 558,107.5 548.3,110.6 545.9,111.2 538.7,115.7 529,119 519.3,120.4 509.7,117.3 503.8,111.2 500,110.2 490.3,107.2 480.7,103.4 473.9,100.7 471,100.1 461.3,97.8 451.7,95.6 442,93.7 432.3,92.2 422.6,90.9 420,90.2 413,88.4 403.3,85.8 393.6,83.6 384,81.6 374.3,79.9M408.6,216 403.3,211.5 394.8,205.5 393.6,205 384,200.8 374.3,197.5M374.3,151.8 384,150.7 393.6,149.2 403.3,147.1 413,144.6 420.7,142.6 422.6,142.1 432.3,140.3 442,138.2 451.7,135.5 461.3,132.7 462.9,132.2 471,126 476.7,121.7 473.6,111.2 471,110 461.3,105.3 451.7,100.8 451.5,100.7 442,97.9 432.3,95.5 422.6,93.5 413,91.1 409.7,90.2 403.3,88.4 393.6,85.9 384,83.6 374.3,81.7M374.3,36.5 384,34 393.6,30.1 398.6,27.4 403.3,23.2 408.6,16.9 408.6,6.4M641.1,6.4 641.4,16.9 640.6,27.4 638.3,37.8 635.4,46.1 634.5,48.3 626.3,58.8 625.7,59.7 618.3,69.3 616,72.9 611,79.8 606.4,85 599.7,90.2 596.7,93.2 588.2,100.7 587,102.3 578.6,111.2 577.3,116.7 575.8,121.7 577.3,124.6 580.4,132.2 587,137.2 592,142.6 596.7,146.3 603.8,153.1 606.4,156.1 611.9,163.6 616,168.8 620.1,174.1 625.7,179.1 630.7,184.6 635,195 635.4,196 638.2,205.5 641.1,216M402.7,216 393.6,209.1 388.4,205.5 384,203.6 374.3,199.9M374.3,150.1 384,148.7 393.6,146.9 403.3,144.6 409.9,142.6 413,141.7 422.6,139.1 432.3,136.7 442,133.7 446.7,132.2 451.7,127.8 459.3,121.7 456.4,111.2 451.7,108.7 442,103 438.6,100.7 432.3,98.8 422.6,96.1 413,93.5 403.3,90.9 401,90.2 393.6,88.2 384,85.7 374.3,83.5M374.3,33.8 384,30.8 391.6,27.4 393.6,25.9 403.3,17 403.4,16.9 403.3,15.1 402.7,6.4M647,6.4 647.9,16.9 647.5,27.4 645.2,37.8 645,38.2 641.1,48.3 635.4,57.3 634.2,58.8 626.9,69.3 625.7,71.5 620.3,79.8 616,86.3 612.5,90.2 606.4,97.4 602.9,100.7 596.7,111.2 596.6,111.2 594.9,121.7 596.7,127.9 597.7,132.2 604.9,142.6 606.4,144 615.7,153.1 616,153.6 622,163.6 625.7,168.3 629.6,174.1 635.4,180.4 638.2,184.6 641.6,195 644.7,205.5 645,206.9 647,216M397.1,216 393.6,213.4 384,206.5 382.2,205.5 374.3,202.3M374.3,148.4 384,146.8 393.6,144.7 401.2,142.6 403.3,142 413,139.1 422.6,136.1 432.3,133 434.9,132.2 442,125.4 446.1,121.7 443.4,111.2 442,110.4 432.3,103.6 428.9,100.7 422.6,98.8 413,95.8 403.3,93.3 393.6,90.5 392.9,90.2 384,87.7 374.3,85.3M374.3,31.2 384,27.7 384.6,27.4 393.6,21.1 398.1,16.9 397.1,6.4M652,6.4 654,16.9 654.1,27.4 651.4,37.8 647.2,48.3 645,52.4 641,58.8 635.4,67.8 634.3,69.3 628.2,79.8 625.7,84.1 621.6,90.2 616,98.6 614.1,100.7 609.6,111.2 608,121.7 610.3,132.2 616,142.6 616,142.7 625.7,152.5 626.3,153.1 630.6,163.6 635.4,170.5 637.3,174.1 644.4,184.6 645,186.3 647.5,195 650.2,205.5 652,216M391.9,216 384,209.9 376.4,205.5 374.3,204.7M374.3,146.7 384,144.8 392.8,142.6 393.6,142.4 403.3,139.4 413,136.4 422.6,133 425.2,132.2 432.3,124.7 435.5,121.7 432.8,111.2 432.3,110.8 422.6,102.6 420.7,100.7 413,98.2 403.3,95.7 393.6,92.9 385.6,90.2 384,89.8 374.3,87.1M654.7,43.7 652.6,48.3 647.3,58.8 645,62.5 640.7,69.3 635.4,79.7 635.3,79.8 629,90.2 625.7,96.5 623,100.7 619.9,111.2 619.2,121.7 620.8,132.2 625.5,142.6 625.7,142.9 634.8,153.1 635.4,154.6 637.7,163.6 643.6,174.1 645,176.3 649.3,184.6 652.6,195 654.7,202.3M374.3,28.5 377.3,27.4 384,24.2 393,16.9 391.9,6.4M387.5,216 384,213.3 374.3,207.1M374.3,145 384,142.8 384.7,142.6 393.6,139.9 403.3,136.9 413,133.8 417.4,132.2 422.6,125.7 426.5,121.7 424.2,111.2 422.6,109.8 413.5,100.7 413,100.6 403.3,98.1 393.6,95.2 384,92 379,90.2 374.3,88.9M654.7,55.7 653.2,58.8 646.7,69.3 645,72.3 641,79.8 635.6,90.2 635.4,91 630.5,100.7 628.6,111.2 628.5,121.7 629.5,132.2 633.6,142.6 635.4,144.6 641.2,153.1 643.6,163.6 645,166.1 648.7,174.1 653.9,184.6 654.7,186.8M374.3,26 384,20.8 388.8,16.9 387.5,6.4M383.2,216 374.3,209.6M374.3,143.2 377,142.6 384,140.6 393.6,137.5 403.3,134.3 409.9,132.2 413,128.9 419,121.7 417.1,111.2 413,107.1 404.2,100.7 403.3,100.5 393.6,97.6 384,94.3 374.3,90.9M654.7,65.4 652.3,69.3 646.4,79.8 645,83 641.4,90.2 637.4,100.7 636.1,111.2 636.1,121.7 637,132.2 640.1,142.6 645,149.8 646.6,153.1 648.5,163.6 653.4,174.1 654.7,176.7M374.3,23.6 384,17.3 384.5,16.9 384,12.8 383.2,6.4M379.7,216 374.3,212.2M374.3,141.3 384,138.4 393.6,135 402.1,132.2 403.3,131.1 412.3,121.7 410.5,111.2 403.3,105.3 396.2,100.7 393.6,100 384,96.6 374.3,93.1M654.7,74 651.3,79.8 647.1,90.2 645,96.6 643.5,100.7 642.4,111.2 642.6,121.7 643.4,132.2 645,138.2 645.8,142.6 650.8,153.1 653.1,163.6 654.7,166.9M374.3,21.3 380.9,16.9 379.7,6.4M376.2,216 374.3,214.7M374.3,139.2 384,136.1 393.6,132.6 394.9,132.2 403.3,124.4 405.9,121.7 404.3,111.2 403.3,110.4 393.6,103.5 389.2,100.7 384,98.9 374.3,95.4M654.7,84 652.4,90.2 649.1,100.7 647.9,111.2 648.2,121.7 648.8,132.2 650.2,142.6 654.7,152.3M374.3,18.9 377.4,16.9 376.2,6.4M374.3,137.2 384,133.9 388.6,132.2 393.6,127.8 400.1,121.7 398.7,111.2 393.6,107.5 384,101.4 382.6,100.7 374.3,97.7M654.7,100 654.5,100.7 652.9,111.2 653.1,121.7 653.8,132.2 654.5,142.6 654.7,143.1M374.3,135.1 382.5,132.2 384,131.2 393.6,122.6 394.6,121.7 393.6,114.5 393.2,111.2 384,104.8 376.4,100.7 374.3,99.9M374.3,133 376.7,132.2 384,127.4 390.2,121.7 388.4,111.2 384,108.1 374.3,102.6M374.3,130.2 384,123.5 386,121.7 384,112.6 383.6,111.2 374.3,105.4M374.3,126.9 381.6,121.7 379.1,111.2 374.3,108.2M374.3,123.7 377,121.7 374.5,111.2 374.3,111.1" fill="none" stroke="#0c0c10" stroke-width="0.6" stroke-linejoin="round"/>
</g>
<rect x="374.3" y="6.4" width="280.4" height="209.6" fill="none" stroke="#262626" stroke-width="0.7"/>
<path d="M374.3,216 h2.6 M654.7,216 h-2.6 M374.3,182.6 h2.6 M654.7,182.6 h-2.6 M374.3,149.3 h2.6 M654.7,149.3 h-2.6 M374.3,115.9 h2.6 M654.7,115.9 h-2.6 M374.3,82.6 h2.6 M654.7,82.6 h-2.6 M374.3,49.2 h2.6 M654.7,49.2 h-2.6 M374.3,15.8 h2.6 M654.7,15.8 h-2.6 M374.3,216 v-2.6 M374.3,6.4 v2.6 M416.5,216 v-1.4 M416.5,6.4 v1.4 M441.2,216 v-1.4 M441.2,6.4 v1.4 M458.7,216 v-1.4 M458.7,6.4 v1.4 M472.3,216 v-1.4 M472.3,6.4 v1.4 M483.4,216 v-1.4 M483.4,6.4 v1.4 M492.8,216 v-1.4 M492.8,6.4 v1.4 M500.9,216 v-1.4 M500.9,6.4 v1.4 M508.1,216 v-1.4 M508.1,6.4 v1.4 M514.5,216 v-2.6 M514.5,6.4 v2.6 M556.7,216 v-1.4 M556.7,6.4 v1.4 M581.4,216 v-1.4 M581.4,6.4 v1.4 M598.9,216 v-1.4 M598.9,6.4 v1.4 M612.5,216 v-1.4 M612.5,6.4 v1.4 M623.6,216 v-1.4 M623.6,6.4 v1.4 M633,216 v-1.4 M633,6.4 v1.4 M641.1,216 v-1.4 M641.1,6.4 v1.4 M648.3,216 v-1.4 M648.3,6.4 v1.4" stroke="#262626" stroke-width="0.6" fill="none"/>
<g fill="#00ff00" stroke="#083008" stroke-width="0.6"><circle cx="432.3" cy="216" r="1.95"/><circle cx="442" cy="216" r="1.95"/><circle cx="451.7" cy="216" r="1.95"/><circle cx="461.3" cy="216" r="1.95"/><circle cx="471" cy="216" r="1.95"/><circle cx="480.7" cy="216" r="1.95"/><circle cx="490.3" cy="216" r="1.95"/><circle cx="519.3" cy="216" r="1.95"/><circle cx="529" cy="216" r="1.95"/><circle cx="538.7" cy="216" r="1.95"/><circle cx="548.3" cy="216" r="1.95"/><circle cx="558" cy="216" r="1.95"/><circle cx="567.7" cy="216" r="1.95"/><circle cx="577.3" cy="216" r="1.95"/><circle cx="587" cy="216" r="1.95"/><circle cx="596.7" cy="216" r="1.95"/><circle cx="606.4" cy="216" r="1.95"/><circle cx="616" cy="216" r="1.95"/><circle cx="422.6" cy="205.5" r="1.95"/><circle cx="432.3" cy="205.5" r="1.95"/><circle cx="442" cy="205.5" r="1.95"/><circle cx="451.7" cy="205.5" r="1.95"/><circle cx="461.3" cy="205.5" r="1.95"/><circle cx="471" cy="205.5" r="1.95"/><circle cx="480.7" cy="205.5" r="1.95"/><circle cx="548.3" cy="205.5" r="1.95"/><circle cx="558" cy="205.5" r="1.95"/><circle cx="567.7" cy="205.5" r="1.95"/><circle cx="577.3" cy="205.5" r="1.95"/><circle cx="587" cy="205.5" r="1.95"/><circle cx="596.7" cy="205.5" r="1.95"/><circle cx="606.4" cy="205.5" r="1.95"/><circle cx="393.6" cy="195" r="1.95"/><circle cx="403.3" cy="195" r="1.95"/><circle cx="413" cy="195" r="1.95"/><circle cx="422.6" cy="195" r="1.95"/><circle cx="432.3" cy="195" r="1.95"/><circle cx="442" cy="195" r="1.95"/><circle cx="451.7" cy="195" r="1.95"/><circle cx="461.3" cy="195" r="1.95"/><circle cx="538.7" cy="195" r="1.95"/><circle cx="548.3" cy="195" r="1.95"/><circle cx="558" cy="195" r="1.95"/><circle cx="567.7" cy="195" r="1.95"/><circle cx="577.3" cy="195" r="1.95"/><circle cx="587" cy="195" r="1.95"/><circle cx="596.7" cy="195" r="1.95"/><circle cx="606.4" cy="195" r="1.95"/><circle cx="374.3" cy="184.6" r="1.95"/><circle cx="384" cy="184.6" r="1.95"/><circle cx="393.6" cy="184.6" r="1.95"/><circle cx="403.3" cy="184.6" r="1.95"/><circle cx="413" cy="184.6" r="1.95"/><circle cx="422.6" cy="184.6" r="1.95"/><circle cx="432.3" cy="184.6" r="1.95"/><circle cx="442" cy="184.6" r="1.95"/><circle cx="519.3" cy="184.6" r="1.95"/><circle cx="529" cy="184.6" r="1.95"/><circle cx="538.7" cy="184.6" r="1.95"/><circle cx="548.3" cy="184.6" r="1.95"/><circle cx="558" cy="184.6" r="1.95"/><circle cx="567.7" cy="184.6" r="1.95"/><circle cx="577.3" cy="184.6" r="1.95"/><circle cx="587" cy="184.6" r="1.95"/><circle cx="596.7" cy="184.6" r="1.95"/><circle cx="374.3" cy="174.1" r="1.95"/><circle cx="384" cy="174.1" r="1.95"/><circle cx="393.6" cy="174.1" r="1.95"/><circle cx="471" cy="174.1" r="1.95"/><circle cx="480.7" cy="174.1" r="1.95"/><circle cx="490.3" cy="174.1" r="1.95"/><circle cx="500" cy="174.1" r="1.95"/><circle cx="509.7" cy="174.1" r="1.95"/><circle cx="519.3" cy="174.1" r="1.95"/><circle cx="529" cy="174.1" r="1.95"/><circle cx="538.7" cy="174.1" r="1.95"/><circle cx="548.3" cy="174.1" r="1.95"/><circle cx="558" cy="174.1" r="1.95"/><circle cx="567.7" cy="174.1" r="1.95"/><circle cx="577.3" cy="174.1" r="1.95"/><circle cx="587" cy="174.1" r="1.95"/><circle cx="374.3" cy="163.6" r="1.95"/><circle cx="384" cy="163.6" r="1.95"/><circle cx="393.6" cy="163.6" r="1.95"/><circle cx="403.3" cy="163.6" r="1.95"/><circle cx="413" cy="163.6" r="1.95"/><circle cx="422.6" cy="163.6" r="1.95"/><circle cx="432.3" cy="163.6" r="1.95"/><circle cx="442" cy="163.6" r="1.95"/><circle cx="451.7" cy="163.6" r="1.95"/><circle cx="461.3" cy="163.6" r="1.95"/><circle cx="471" cy="163.6" r="1.95"/><circle cx="480.7" cy="163.6" r="1.95"/><circle cx="490.3" cy="163.6" r="1.95"/><circle cx="500" cy="163.6" r="1.95"/><circle cx="509.7" cy="163.6" r="1.95"/><circle cx="519.3" cy="163.6" r="1.95"/><circle cx="529" cy="163.6" r="1.95"/><circle cx="538.7" cy="163.6" r="1.95"/><circle cx="548.3" cy="163.6" r="1.95"/><circle cx="558" cy="163.6" r="1.95"/><circle cx="567.7" cy="163.6" r="1.95"/><circle cx="422.6" cy="153.1" r="1.95"/><circle cx="432.3" cy="153.1" r="1.95"/><circle cx="442" cy="153.1" r="1.95"/><circle cx="451.7" cy="153.1" r="1.95"/><circle cx="461.3" cy="153.1" r="1.95"/><circle cx="471" cy="153.1" r="1.95"/><circle cx="480.7" cy="153.1" r="1.95"/><circle cx="490.3" cy="153.1" r="1.95"/><circle cx="500" cy="153.1" r="1.95"/><circle cx="509.7" cy="153.1" r="1.95"/><circle cx="519.3" cy="153.1" r="1.95"/><circle cx="529" cy="153.1" r="1.95"/><circle cx="538.7" cy="153.1" r="1.95"/><circle cx="548.3" cy="153.1" r="1.95"/><circle cx="384" cy="79.8" r="1.95"/><circle cx="393.6" cy="79.8" r="1.95"/><circle cx="403.3" cy="79.8" r="1.95"/><circle cx="413" cy="79.8" r="1.95"/><circle cx="422.6" cy="79.8" r="1.95"/><circle cx="432.3" cy="79.8" r="1.95"/><circle cx="442" cy="79.8" r="1.95"/><circle cx="451.7" cy="79.8" r="1.95"/><circle cx="461.3" cy="79.8" r="1.95"/><circle cx="471" cy="79.8" r="1.95"/><circle cx="480.7" cy="79.8" r="1.95"/><circle cx="490.3" cy="79.8" r="1.95"/><circle cx="500" cy="79.8" r="1.95"/><circle cx="509.7" cy="79.8" r="1.95"/><circle cx="519.3" cy="79.8" r="1.95"/><circle cx="529" cy="79.8" r="1.95"/><circle cx="538.7" cy="79.8" r="1.95"/><circle cx="548.3" cy="79.8" r="1.95"/><circle cx="558" cy="79.8" r="1.95"/><circle cx="374.3" cy="69.3" r="1.95"/><circle cx="384" cy="69.3" r="1.95"/><circle cx="393.6" cy="69.3" r="1.95"/><circle cx="403.3" cy="69.3" r="1.95"/><circle cx="413" cy="69.3" r="1.95"/><circle cx="422.6" cy="69.3" r="1.95"/><circle cx="432.3" cy="69.3" r="1.95"/><circle cx="442" cy="69.3" r="1.95"/><circle cx="451.7" cy="69.3" r="1.95"/><circle cx="461.3" cy="69.3" r="1.95"/><circle cx="471" cy="69.3" r="1.95"/><circle cx="480.7" cy="69.3" r="1.95"/><circle cx="490.3" cy="69.3" r="1.95"/><circle cx="500" cy="69.3" r="1.95"/><circle cx="509.7" cy="69.3" r="1.95"/><circle cx="519.3" cy="69.3" r="1.95"/><circle cx="529" cy="69.3" r="1.95"/><circle cx="538.7" cy="69.3" r="1.95"/><circle cx="548.3" cy="69.3" r="1.95"/><circle cx="558" cy="69.3" r="1.95"/><circle cx="567.7" cy="69.3" r="1.95"/><circle cx="577.3" cy="69.3" r="1.95"/><circle cx="374.3" cy="58.8" r="1.95"/><circle cx="384" cy="58.8" r="1.95"/><circle cx="393.6" cy="58.8" r="1.95"/><circle cx="403.3" cy="58.8" r="1.95"/><circle cx="413" cy="58.8" r="1.95"/><circle cx="422.6" cy="58.8" r="1.95"/><circle cx="432.3" cy="58.8" r="1.95"/><circle cx="442" cy="58.8" r="1.95"/><circle cx="451.7" cy="58.8" r="1.95"/><circle cx="461.3" cy="58.8" r="1.95"/><circle cx="471" cy="58.8" r="1.95"/><circle cx="480.7" cy="58.8" r="1.95"/><circle cx="490.3" cy="58.8" r="1.95"/><circle cx="500" cy="58.8" r="1.95"/><circle cx="509.7" cy="58.8" r="1.95"/><circle cx="519.3" cy="58.8" r="1.95"/><circle cx="529" cy="58.8" r="1.95"/><circle cx="538.7" cy="58.8" r="1.95"/><circle cx="548.3" cy="58.8" r="1.95"/><circle cx="558" cy="58.8" r="1.95"/><circle cx="567.7" cy="58.8" r="1.95"/><circle cx="577.3" cy="58.8" r="1.95"/><circle cx="587" cy="58.8" r="1.95"/><circle cx="374.3" cy="48.3" r="1.95"/><circle cx="384" cy="48.3" r="1.95"/><circle cx="393.6" cy="48.3" r="1.95"/><circle cx="403.3" cy="48.3" r="1.95"/><circle cx="413" cy="48.3" r="1.95"/><circle cx="422.6" cy="48.3" r="1.95"/><circle cx="432.3" cy="48.3" r="1.95"/><circle cx="442" cy="48.3" r="1.95"/><circle cx="451.7" cy="48.3" r="1.95"/><circle cx="461.3" cy="48.3" r="1.95"/><circle cx="471" cy="48.3" r="1.95"/><circle cx="480.7" cy="48.3" r="1.95"/><circle cx="490.3" cy="48.3" r="1.95"/><circle cx="500" cy="48.3" r="1.95"/><circle cx="509.7" cy="48.3" r="1.95"/><circle cx="519.3" cy="48.3" r="1.95"/><circle cx="529" cy="48.3" r="1.95"/><circle cx="538.7" cy="48.3" r="1.95"/><circle cx="548.3" cy="48.3" r="1.95"/><circle cx="558" cy="48.3" r="1.95"/><circle cx="567.7" cy="48.3" r="1.95"/><circle cx="577.3" cy="48.3" r="1.95"/><circle cx="587" cy="48.3" r="1.95"/><circle cx="596.7" cy="48.3" r="1.95"/><circle cx="413" cy="37.8" r="1.95"/><circle cx="422.6" cy="37.8" r="1.95"/><circle cx="432.3" cy="37.8" r="1.95"/><circle cx="442" cy="37.8" r="1.95"/><circle cx="451.7" cy="37.8" r="1.95"/><circle cx="461.3" cy="37.8" r="1.95"/><circle cx="471" cy="37.8" r="1.95"/><circle cx="480.7" cy="37.8" r="1.95"/><circle cx="490.3" cy="37.8" r="1.95"/><circle cx="500" cy="37.8" r="1.95"/><circle cx="509.7" cy="37.8" r="1.95"/><circle cx="519.3" cy="37.8" r="1.95"/><circle cx="529" cy="37.8" r="1.95"/><circle cx="538.7" cy="37.8" r="1.95"/><circle cx="548.3" cy="37.8" r="1.95"/><circle cx="558" cy="37.8" r="1.95"/><circle cx="567.7" cy="37.8" r="1.95"/><circle cx="577.3" cy="37.8" r="1.95"/><circle cx="587" cy="37.8" r="1.95"/><circle cx="596.7" cy="37.8" r="1.95"/><circle cx="606.4" cy="37.8" r="1.95"/><circle cx="432.3" cy="27.4" r="1.95"/><circle cx="442" cy="27.4" r="1.95"/><circle cx="451.7" cy="27.4" r="1.95"/><circle cx="461.3" cy="27.4" r="1.95"/><circle cx="471" cy="27.4" r="1.95"/><circle cx="480.7" cy="27.4" r="1.95"/><circle cx="490.3" cy="27.4" r="1.95"/><circle cx="500" cy="27.4" r="1.95"/><circle cx="509.7" cy="27.4" r="1.95"/><circle cx="519.3" cy="27.4" r="1.95"/><circle cx="529" cy="27.4" r="1.95"/><circle cx="538.7" cy="27.4" r="1.95"/><circle cx="548.3" cy="27.4" r="1.95"/><circle cx="558" cy="27.4" r="1.95"/><circle cx="567.7" cy="27.4" r="1.95"/><circle cx="577.3" cy="27.4" r="1.95"/><circle cx="587" cy="27.4" r="1.95"/><circle cx="596.7" cy="27.4" r="1.95"/><circle cx="606.4" cy="27.4" r="1.95"/><circle cx="616" cy="27.4" r="1.95"/><circle cx="442" cy="16.9" r="1.95"/><circle cx="451.7" cy="16.9" r="1.95"/><circle cx="461.3" cy="16.9" r="1.95"/><circle cx="471" cy="16.9" r="1.95"/><circle cx="480.7" cy="16.9" r="1.95"/><circle cx="490.3" cy="16.9" r="1.95"/><circle cx="500" cy="16.9" r="1.95"/><circle cx="509.7" cy="16.9" r="1.95"/><circle cx="519.3" cy="16.9" r="1.95"/><circle cx="529" cy="16.9" r="1.95"/><circle cx="538.7" cy="16.9" r="1.95"/><circle cx="548.3" cy="16.9" r="1.95"/><circle cx="558" cy="16.9" r="1.95"/><circle cx="567.7" cy="16.9" r="1.95"/><circle cx="577.3" cy="16.9" r="1.95"/><circle cx="587" cy="16.9" r="1.95"/><circle cx="596.7" cy="16.9" r="1.95"/><circle cx="606.4" cy="16.9" r="1.95"/><circle cx="616" cy="16.9" r="1.95"/><circle cx="432.3" cy="6.4" r="1.95"/><circle cx="442" cy="6.4" r="1.95"/><circle cx="451.7" cy="6.4" r="1.95"/><circle cx="461.3" cy="6.4" r="1.95"/><circle cx="471" cy="6.4" r="1.95"/><circle cx="480.7" cy="6.4" r="1.95"/><circle cx="490.3" cy="6.4" r="1.95"/><circle cx="529" cy="6.4" r="1.95"/><circle cx="538.7" cy="6.4" r="1.95"/><circle cx="548.3" cy="6.4" r="1.95"/><circle cx="558" cy="6.4" r="1.95"/><circle cx="567.7" cy="6.4" r="1.95"/><circle cx="577.3" cy="6.4" r="1.95"/><circle cx="587" cy="6.4" r="1.95"/><circle cx="596.7" cy="6.4" r="1.95"/><circle cx="606.4" cy="6.4" r="1.95"/><circle cx="616" cy="6.4" r="1.95"/><circle cx="500" cy="90.2" r="1.95"/><circle cx="509.7" cy="90.2" r="1.95"/></g>
<g fill="#ff0000" stroke="#400808" stroke-width="0.6"><circle cx="500" cy="216" r="2.35"/><circle cx="509.7" cy="216" r="2.35"/><circle cx="490.3" cy="205.5" r="2.35"/><circle cx="500" cy="205.5" r="2.35"/><circle cx="509.7" cy="205.5" r="2.35"/><circle cx="519.3" cy="205.5" r="2.35"/><circle cx="529" cy="205.5" r="2.35"/><circle cx="538.7" cy="205.5" r="2.35"/><circle cx="471" cy="195" r="2.35"/><circle cx="480.7" cy="195" r="2.35"/><circle cx="490.3" cy="195" r="2.35"/><circle cx="500" cy="195" r="2.35"/><circle cx="509.7" cy="195" r="2.35"/><circle cx="519.3" cy="195" r="2.35"/><circle cx="529" cy="195" r="2.35"/><circle cx="451.7" cy="184.6" r="2.35"/><circle cx="461.3" cy="184.6" r="2.35"/><circle cx="471" cy="184.6" r="2.35"/><circle cx="480.7" cy="184.6" r="2.35"/><circle cx="490.3" cy="184.6" r="2.35"/><circle cx="500" cy="184.6" r="2.35"/><circle cx="509.7" cy="184.6" r="2.35"/><circle cx="403.3" cy="174.1" r="2.35"/><circle cx="413" cy="174.1" r="2.35"/><circle cx="422.6" cy="174.1" r="2.35"/><circle cx="432.3" cy="174.1" r="2.35"/><circle cx="442" cy="174.1" r="2.35"/><circle cx="451.7" cy="174.1" r="2.35"/><circle cx="461.3" cy="174.1" r="2.35"/><circle cx="500" cy="6.4" r="2.35"/><circle cx="509.7" cy="6.4" r="2.35"/><circle cx="519.3" cy="6.4" r="2.35"/></g>
<rect x="556.4" y="7.8" width="95.6" height="32.3" fill="#fff" stroke="#3a3a3a" stroke-width="0.5"/>
<path d="M559.2,14.3 H584.2" stroke="#262626" stroke-width="0.6"/>
<circle cx="571.9" cy="24.9" r="2.8" fill="#00ff00" stroke="#0a3a0a" stroke-width="0.5"/>
<circle cx="571.9" cy="35.3" r="2.8" fill="#ff0000" stroke="#4a0a0a" stroke-width="0.5"/>
<text x="586.9" y="17.7" style="font-family:'Liberation Serif',serif;font-size:7.78px" fill="#111">Contour line</text>
<text x="586.9" y="28" style="font-family:'Liberation Serif',serif;font-size:7.78px" fill="#111">Favorable condition</text>
<text x="586.9" y="38.3" style="font-family:'Liberation Serif',serif;font-size:7.78px" fill="#111">Optimal condition</text>
<text x="370.1" y="220.2" text-anchor="end" style="font-family:'Liberation Serif',serif;font-size:10px" fill="#111">0</text>
<text x="370.1" y="186.8" text-anchor="end" style="font-family:'Liberation Serif',serif;font-size:10px" fill="#111">1</text>
<text x="370.1" y="153.5" text-anchor="end" style="font-family:'Liberation Serif',serif;font-size:10px" fill="#111">2</text>
<text x="370.1" y="120.1" text-anchor="end" style="font-family:'Liberation Serif',serif;font-size:10px" fill="#111">3</text>
<text x="370.1" y="86.8" text-anchor="end" style="font-family:'Liberation Serif',serif;font-size:10px" fill="#111">4</text>
<text x="370.1" y="53.4" text-anchor="end" style="font-family:'Liberation Serif',serif;font-size:10px" fill="#111">5</text>
<text x="370.1" y="20" text-anchor="end" style="font-family:'Liberation Serif',serif;font-size:10px" fill="#111">6</text>
<text x="365.7" y="234.3" style="font-family:'Liberation Serif',serif;font-size:10px" fill="#111">10<tspan dy="-4.6" style="font-size:8px">-1</tspan></text>
<text x="507.7" y="234.3" style="font-family:'Liberation Serif',serif;font-size:10px" fill="#111">10<tspan dy="-4.6" style="font-size:8px">0</tspan></text>
<text x="647.9" y="234.3" style="font-family:'Liberation Serif',serif;font-size:10px" fill="#111">10<tspan dy="-4.6" style="font-size:8px">1</tspan></text>
<text x="461.8" y="248.7" style="font-family:'Liberation Serif',serif;font-size:11.4px" fill="#111">Eccentricity ratio <tspan font-style="italic">e</tspan><tspan dy="4.6" dx="0.5" style="font-size:8.9px">1</tspan><tspan dy="-4.6" dx="0.5">/</tspan><tspan font-style="italic">e</tspan><tspan dy="4.6" dx="0.5" style="font-size:8.9px">2</tspan></text>
<text transform="translate(355.7,189.3) rotate(-90)" style="font-family:'Liberation Serif',serif;font-size:11px" fill="#111" textLength="27.9" lengthAdjust="spacing">Initial</text>
<text transform="translate(355.7,157.7) rotate(-90)" style="font-family:'Liberation Serif',serif;font-size:11px" fill="#111" textLength="28.3" lengthAdjust="spacing">phase</text>
<text transform="translate(355.7,126.3) rotate(-90)" style="font-family:'Liberation Serif',serif;font-size:11px" fill="#111" textLength="49.7" lengthAdjust="spacing">difference</text>
<text transform="translate(355.7,72.9) rotate(-90)" style="font-family:'Liberation Serif',serif;font-size:12.6px" fill="#111" >Δ</text>
<g fill="none" stroke="#222"><ellipse cx="353.5" cy="59.4" rx="2.7" ry="3.3" stroke-width="0.8" transform="rotate(8 353.5 59.4)"/><path d="M348.3,58.3 L357.7,60.3" stroke-width="0.65"/></g>
<text transform="translate(355.7,52.6) rotate(-90)" style="font-family:'Liberation Serif',serif;font-size:11px" fill="#111" textLength="23.6" lengthAdjust="spacing">(rad)</text>
<defs><linearGradient id="cbb" x1="0" y1="0" x2="0" y2="1"><stop offset="0.0000" stop-color="#f9fb15"/><stop offset="0.0312" stop-color="#f6ef20"/><stop offset="0.0625" stop-color="#f5e327"/><stop offset="0.0938" stop-color="#f9d62d"/><stop offset="0.1250" stop-color="#feca33"/><stop offset="0.1562" stop-color="#febe3c"/><stop offset="0.1875" stop-color="#f1ba37"/><stop offset="0.2188" stop-color="#debc29"/><stop offset="0.2500" stop-color="#c8c129"/><stop offset="0.2812" stop-color="#afc636"/><stop offset="0.3125" stop-color="#94ca4a"/><stop offset="0.3438" stop-color="#77cc60"/><stop offset="0.3750" stop-color="#5ccc76"/><stop offset="0.4062" stop-color="#43cb8a"/><stop offset="0.4375" stop-color="#34c79c"/><stop offset="0.4688" stop-color="#28c2ab"/><stop offset="0.5000" stop-color="#12beb9"/><stop offset="0.5312" stop-color="#00b9c6"/><stop offset="0.5625" stop-color="#0cb3d3"/><stop offset="0.5938" stop-color="#1aacdd"/><stop offset="0.6250" stop-color="#21a3e3"/><stop offset="0.6562" stop-color="#269ae9"/><stop offset="0.6875" stop-color="#2c90f0"/><stop offset="0.7188" stop-color="#2e85f8"/><stop offset="0.7500" stop-color="#347afd"/><stop offset="0.7812" stop-color="#3f6eff"/><stop offset="0.8125" stop-color="#4562fc"/><stop offset="0.8438" stop-color="#4757f7"/><stop offset="0.8750" stop-color="#484cef"/><stop offset="0.9062" stop-color="#4741e5"/><stop offset="0.9375" stop-color="#4536d5"/><stop offset="0.9688" stop-color="#422ebf"/><stop offset="1.0000" stop-color="#3e26a8"/></linearGradient></defs><rect x="661.1" y="7.3" width="14.2" height="208.7" fill="url(#cbb)" stroke="#262626" stroke-width="0.6"/>
<text x="678.7" y="198" style="font-family:'Liberation Serif',serif;font-size:9.3px" fill="#111">1</text>
<text x="678.7" y="176.2" style="font-family:'Liberation Serif',serif;font-size:9.3px" fill="#111">2</text>
<text x="678.7" y="154.4" style="font-family:'Liberation Serif',serif;font-size:9.3px" fill="#111">3</text>
<text x="678.7" y="132.6" style="font-family:'Liberation Serif',serif;font-size:9.3px" fill="#111">4</text>
<text x="678.7" y="110.8" style="font-family:'Liberation Serif',serif;font-size:9.3px" fill="#111">5</text>
<text x="678.7" y="89" style="font-family:'Liberation Serif',serif;font-size:9.3px" fill="#111">6</text>
<text x="678.7" y="67.2" style="font-family:'Liberation Serif',serif;font-size:9.3px" fill="#111">7</text>
<text x="678.7" y="45.4" style="font-family:'Liberation Serif',serif;font-size:9.3px" fill="#111">8</text>
<text x="678.7" y="23.6" style="font-family:'Liberation Serif',serif;font-size:9.3px" fill="#111">9</text>
<path d="M675.3,194.8 h-1.8 M675.3,173 h-1.8 M675.3,151.2 h-1.8 M675.3,129.4 h-1.8 M675.3,107.6 h-1.8 M675.3,85.8 h-1.8 M675.3,64 h-1.8 M675.3,42.2 h-1.8 M675.3,20.4 h-1.8" stroke="#262626" stroke-width="0.6" fill="none"/>
<text x="255.2" y="274.6" style="font-family:'Liberation Serif',serif;font-size:16px" fill="#111">(a)</text><text x="412.3" y="274.6" style="font-family:'Liberation Serif',serif;font-size:16px" fill="#111">(b)</text>
</svg>
</body></html>
